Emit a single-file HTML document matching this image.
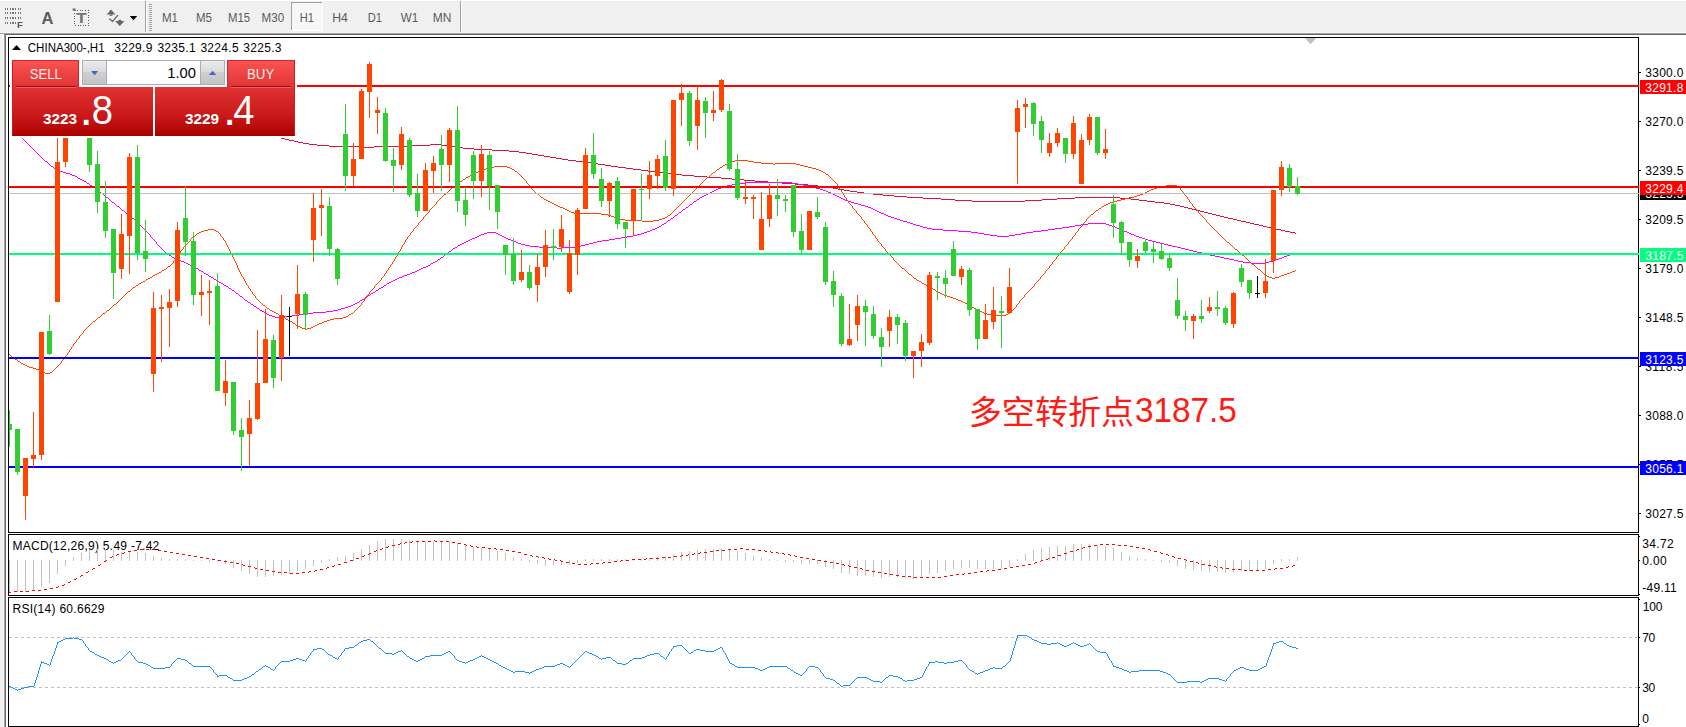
<!DOCTYPE html>
<html lang="zh"><head><meta charset="utf-8"><title>CHINA300-,H1</title>
<style>html,body{margin:0;padding:0;background:#f0f0f0;}body{width:1686px;height:727px;overflow:hidden;}svg{display:block}text{font-family:"Liberation Sans","Noto Sans CJK SC",sans-serif;}</style></head><body>
<svg width="1686" height="727" viewBox="0 0 1686 727">
<defs>
<linearGradient id="gTab" x1="0" y1="0" x2="0" y2="1"><stop offset="0" stop-color="#fb5353"/><stop offset="1" stop-color="#e23434"/></linearGradient>
<linearGradient id="gPrice" x1="0" y1="0" x2="0" y2="1"><stop offset="0" stop-color="#e13333"/><stop offset="0.6" stop-color="#c81818"/><stop offset="1" stop-color="#ab0000"/></linearGradient>
<linearGradient id="gBtn" x1="0" y1="0" x2="0" y2="1"><stop offset="0" stop-color="#ececec"/><stop offset="0.45" stop-color="#dcdcdc"/><stop offset="0.5" stop-color="#cfcfcf"/><stop offset="1" stop-color="#c4c4c4"/></linearGradient>
<clipPath id="clipMain"><rect x="9" y="38" width="1630" height="494"/></clipPath>
</defs>
<rect x="0" y="0" width="1686" height="727" fill="#f0f0f0"/>
<rect x="0" y="0" width="1686" height="1" fill="#ffffff"/>
<g id="toolbar" shape-rendering="crispEdges">
<line x1="4.5" y1="9" x2="21" y2="9" stroke="#777" stroke-width="2" stroke-dasharray="1.3 1.3"/>
<line x1="4.5" y1="13" x2="21" y2="13" stroke="#777" stroke-width="2" stroke-dasharray="1.3 1.3"/>
<line x1="4.5" y1="18" x2="21" y2="18" stroke="#777" stroke-width="2" stroke-dasharray="1.3 1.3"/>
<line x1="4.5" y1="23" x2="16" y2="23" stroke="#777" stroke-width="2" stroke-dasharray="1.3 1.3"/>
</g>
<text x="17" y="28.4" font-size="9.5" font-weight="bold" fill="#555">F</text>
<text x="41.5" y="24" font-size="16.5" font-weight="bold" fill="#5c5c5c">A</text>
<rect x="74.5" y="10.5" width="14" height="15" fill="none" stroke="#5a5a5a" stroke-width="1" stroke-dasharray="1 1.6" shape-rendering="crispEdges"/>
<rect x="72.5" y="8.5" width="3" height="2" fill="#707070"/>
<text x="76.1" y="23.4" font-size="14" font-weight="bold" fill="#767676" textLength="10.8" lengthAdjust="spacingAndGlyphs">T</text>
<path d="M111 9.5 L115.4 14.5 L106.6 14.5 Z" fill="#666"/><rect x="109.6" y="14.5" width="2.8" height="1.3" fill="#666"/>
<path d="M119.8 25.9 L124.5 21 L115.1 21 Z" fill="#666"/><rect x="118.4" y="19.8" width="2.8" height="1.3" fill="#666"/>
<path d="M109.3 18.8 L112.6 21.4 L117.9 15.1" fill="none" stroke="#666" stroke-width="1.4"/>
<path d="M129.8 16 L137.2 16 L133.5 20.2 Z" fill="#000"/>
<g shape-rendering="crispEdges">
<rect x="145" y="1" width="1" height="32" fill="#a0a0a0"/><rect x="146" y="1" width="1" height="32" fill="#ffffff"/>
<rect x="149" y="4" width="3" height="1" fill="#a6a6a6"/>
<rect x="149" y="6" width="3" height="1" fill="#a6a6a6"/>
<rect x="149" y="8" width="3" height="1" fill="#a6a6a6"/>
<rect x="149" y="10" width="3" height="1" fill="#a6a6a6"/>
<rect x="149" y="12" width="3" height="1" fill="#a6a6a6"/>
<rect x="149" y="14" width="3" height="1" fill="#a6a6a6"/>
<rect x="149" y="16" width="3" height="1" fill="#a6a6a6"/>
<rect x="149" y="18" width="3" height="1" fill="#a6a6a6"/>
<rect x="149" y="20" width="3" height="1" fill="#a6a6a6"/>
<rect x="149" y="22" width="3" height="1" fill="#a6a6a6"/>
<rect x="149" y="24" width="3" height="1" fill="#a6a6a6"/>
<rect x="149" y="26" width="3" height="1" fill="#a6a6a6"/>
<rect x="149" y="28" width="3" height="1" fill="#a6a6a6"/>
<rect x="149" y="30" width="3" height="1" fill="#a6a6a6"/>
<rect x="460" y="1" width="1" height="32" fill="#a0a0a0"/><rect x="461" y="1" width="1" height="32" fill="#ffffff"/>
<rect x="291" y="2" width="31" height="29" fill="#f7f7f7"/>
<rect x="291" y="2" width="31" height="1" fill="#a0a0a0"/><rect x="291" y="2" width="1" height="29" fill="#a0a0a0"/>
<rect x="291" y="30" width="32" height="1" fill="#ffffff"/><rect x="322" y="2" width="1" height="29" fill="#ffffff"/>
</g>
<g opacity="0.999">
<text x="162" y="22.3" font-size="12" fill="#5a5a5a" textLength="16.0" lengthAdjust="spacingAndGlyphs">M1</text>
<text x="196" y="22.3" font-size="12" fill="#5a5a5a" textLength="16.0" lengthAdjust="spacingAndGlyphs">M5</text>
<text x="228" y="22.3" font-size="12" fill="#5a5a5a" textLength="22.0" lengthAdjust="spacingAndGlyphs">M15</text>
<text x="261.6" y="22.3" font-size="12" fill="#5a5a5a" textLength="22.5" lengthAdjust="spacingAndGlyphs">M30</text>
<text x="299.8" y="22.3" font-size="12" fill="#5a5a5a" textLength="14.2" lengthAdjust="spacingAndGlyphs">H1</text>
<text x="332.2" y="22.3" font-size="12" fill="#5a5a5a" textLength="15.7" lengthAdjust="spacingAndGlyphs">H4</text>
<text x="367.7" y="22.3" font-size="12" fill="#5a5a5a" textLength="14.2" lengthAdjust="spacingAndGlyphs">D1</text>
<text x="400.8" y="22.3" font-size="12" fill="#5a5a5a" textLength="17.4" lengthAdjust="spacingAndGlyphs">W1</text>
<text x="432.8" y="22.3" font-size="12" fill="#5a5a5a" textLength="18.6" lengthAdjust="spacingAndGlyphs">MN</text>
</g>
<g shape-rendering="crispEdges">
<rect x="0" y="32" width="1686" height="1" fill="#f8f8f8"/>
<rect x="0" y="33" width="1686" height="1" fill="#a0a0a0"/><rect x="0" y="34" width="4" height="1" fill="#ffffff"/><rect x="5" y="34" width="1681" height="1" fill="#696969"/>
<rect x="3" y="35" width="1" height="692" fill="#f8f8f8"/>
<rect x="4" y="33" width="1" height="694" fill="#a0a0a0"/><rect x="5" y="34" width="1" height="693" fill="#696969"/>
<rect x="6" y="35" width="1680" height="692" fill="#ffffff"/>
<rect x="8" y="37" width="1631" height="1" fill="#000"/>
<rect x="8" y="532" width="1631" height="1" fill="#000"/>
<rect x="8" y="37" width="1" height="496" fill="#000"/>
<rect x="1638" y="37" width="1" height="496" fill="#000"/>
<rect x="8" y="534" width="1631" height="1" fill="#000"/>
<rect x="8" y="595" width="1631" height="1" fill="#000"/>
<rect x="8" y="534" width="1" height="62" fill="#000"/>
<rect x="1638" y="534" width="1" height="62" fill="#000"/>
<rect x="8" y="597" width="1631" height="1" fill="#000"/>
<rect x="8" y="726" width="1631" height="1" fill="#000"/>
<rect x="8" y="597" width="1" height="130" fill="#000"/>
<rect x="1638" y="597" width="1" height="130" fill="#000"/>
</g>
<path d="M1305 38 L1316.2 38 L1310.6 44.2 Z" fill="#c0c0c0"/>
<g clip-path="url(#clipMain)">
<path d="M240.5 128v1M241.5 128v1M242.5 128v1M243.5 128v1M244.5 129v1M245.5 129v1M246.5 129v1M247.5 129v1M248.5 130v1M249.5 130v1M250.5 130v1M251.5 130v1M252.5 131v1M253.5 131v1M254.5 131v1M255.5 131v1M256.5 132v1M257.5 132v1M258.5 132v1M259.5 132v1M260.5 133v1M261.5 133v1M262.5 133v1M263.5 133v1M264.5 134v1M265.5 134v1M266.5 134v1M267.5 134v1M268.5 135v1M269.5 135v1M270.5 135v1M271.5 135v1M272.5 136v1M273.5 136v1M274.5 136v1M275.5 136v1M276.5 136v1M277.5 137v1M278.5 137v1M279.5 137v1M280.5 137v1M281.5 138v1M282.5 138v1M283.5 138v1M284.5 138v1M285.5 139v1M286.5 139v1M287.5 139v1M288.5 139v1M289.5 140v1M290.5 140v1M291.5 140v1M292.5 140v1M293.5 140v1M294.5 141v1M295.5 141v1M296.5 141v1M297.5 141v1M298.5 142v1M299.5 142v1M300.5 142v1M301.5 142v1M302.5 142v1M303.5 143v1M304.5 143v1M305.5 143v1M306.5 143v1M307.5 143v1M308.5 143v1M309.5 144v1M310.5 144v1M311.5 144v1M312.5 144v1M313.5 144v1M314.5 144v1M315.5 144v1M316.5 144v1M317.5 145v1M318.5 145v1M319.5 145v1M320.5 145v1M321.5 145v1M322.5 145v1M323.5 145v1M324.5 145v1M325.5 145v1M326.5 145v1M327.5 145v1M328.5 145v1M329.5 146v1M330.5 146v1M331.5 146v1M332.5 146v1M333.5 146v1M334.5 146v1M335.5 146v1M336.5 146v1M337.5 146v1M338.5 146v1M339.5 146v1M340.5 146v1M341.5 146v1M342.5 146v1M343.5 146v1M344.5 146v1M345.5 146v1M346.5 146v1M347.5 146v1M348.5 146v1M349.5 146v1M350.5 146v1M351.5 146v1M352.5 146v1M353.5 146v1M354.5 146v1M355.5 146v1M356.5 146v1M357.5 146v1M358.5 146v1M359.5 146v1M360.5 146v1M361.5 146v1M362.5 146v1M363.5 146v1M364.5 147v1M365.5 147v1M366.5 147v1M367.5 147v1M368.5 147v1M369.5 147v1M370.5 147v1M371.5 147v1M372.5 147v1M373.5 147v1M374.5 146v1M375.5 146v1M376.5 146v1M377.5 146v1M378.5 146v1M379.5 146v1M380.5 146v1M381.5 146v1M382.5 146v1M383.5 146v1M384.5 146v1M385.5 146v1M386.5 146v1M387.5 146v1M388.5 146v1M389.5 146v1M390.5 146v1M391.5 146v1M392.5 146v1M393.5 146v1M394.5 146v1M395.5 146v1M396.5 146v1M397.5 146v1M398.5 146v1M399.5 146v1M400.5 146v1M401.5 146v1M402.5 146v1M403.5 146v1M404.5 146v1M405.5 146v1M406.5 146v1M407.5 146v1M408.5 146v1M409.5 146v1M410.5 145v1M411.5 145v1M412.5 145v1M413.5 145v1M414.5 145v1M415.5 145v1M416.5 145v1M417.5 145v1M418.5 145v1M419.5 145v1M420.5 145v1M421.5 145v1M422.5 145v1M423.5 145v1M424.5 145v1M425.5 145v1M426.5 145v1M427.5 145v1M428.5 145v1M429.5 145v1M430.5 144v1M431.5 144v1M432.5 144v1M433.5 144v1M434.5 144v1M435.5 144v1M436.5 144v1M437.5 144v1M438.5 144v1M439.5 144v1M440.5 144v1M441.5 144v1M442.5 145v1M443.5 145v1M444.5 145v1M445.5 145v1M446.5 145v1M447.5 145v1M448.5 145v1M449.5 145v1M450.5 146v1M451.5 146v1M452.5 146v1M453.5 146v1M454.5 146v1M455.5 146v1M456.5 147v1M457.5 147v1M458.5 147v1M459.5 147v1M460.5 147v1M461.5 147v1M462.5 147v1M463.5 148v1M464.5 148v1M465.5 148v1M466.5 148v1M467.5 148v1M468.5 148v1M469.5 148v1M470.5 148v1M471.5 148v1M472.5 148v1M473.5 148v1M474.5 149v1M475.5 149v1M476.5 149v1M477.5 149v1M478.5 149v1M479.5 149v1M480.5 149v1M481.5 149v1M482.5 149v1M483.5 149v1M484.5 149v1M485.5 149v1M486.5 149v1M487.5 149v1M488.5 149v1M489.5 149v1M490.5 149v1M491.5 149v1M492.5 150v1M493.5 150v1M494.5 150v1M495.5 150v1M496.5 150v1M497.5 150v1M498.5 150v1M499.5 150v1M500.5 150v1M501.5 150v1M502.5 150v1M503.5 150v1M504.5 150v1M505.5 150v1M506.5 150v1M507.5 150v1M508.5 150v1M509.5 151v1M510.5 151v1M511.5 151v1M512.5 151v1M513.5 151v1M514.5 151v1M515.5 151v1M516.5 151v1M517.5 151v1M518.5 151v1M519.5 152v1M520.5 152v1M521.5 152v1M522.5 152v1M523.5 152v1M524.5 152v1M525.5 152v1M526.5 153v1M527.5 153v1M528.5 153v1M529.5 153v1M530.5 153v1M531.5 153v1M532.5 154v1M533.5 154v1M534.5 154v1M535.5 154v1M536.5 154v1M537.5 154v1M538.5 155v1M539.5 155v1M540.5 155v1M541.5 155v1M542.5 155v1M543.5 155v1M544.5 156v1M545.5 156v1M546.5 156v1M547.5 156v1M548.5 156v1M549.5 156v1M550.5 157v1M551.5 157v1M552.5 157v1M553.5 157v1M554.5 157v1M555.5 157v1M556.5 158v1M557.5 158v1M558.5 158v1M559.5 158v1M560.5 158v1M561.5 158v1M562.5 159v1M563.5 159v1M564.5 159v1M565.5 159v1M566.5 159v1M567.5 159v1M568.5 160v1M569.5 160v1M570.5 160v1M571.5 160v1M572.5 160v1M573.5 160v1M574.5 160v1M575.5 160v1M576.5 161v1M577.5 161v1M578.5 161v1M579.5 161v1M580.5 161v1M581.5 161v1M582.5 161v1M583.5 161v1M584.5 162v1M585.5 162v1M586.5 162v1M587.5 162v1M588.5 162v1M589.5 162v1M590.5 162v1M591.5 163v1M592.5 163v1M593.5 163v1M594.5 163v1M595.5 163v1M596.5 163v1M597.5 163v1M598.5 164v1M599.5 164v1M600.5 164v1M601.5 164v1M602.5 164v1M603.5 164v1M604.5 164v1M605.5 165v1M606.5 165v1M607.5 165v1M608.5 165v1M609.5 165v1M610.5 165v1M611.5 166v1M612.5 166v1M613.5 166v1M614.5 166v1M615.5 166v1M616.5 166v1M617.5 166v1M618.5 167v1M619.5 167v1M620.5 167v1M621.5 167v1M622.5 167v1M623.5 167v1M624.5 167v1M625.5 167v1M626.5 168v1M627.5 168v1M628.5 168v1M629.5 168v1M630.5 168v1M631.5 168v1M632.5 168v1M633.5 169v1M634.5 169v1M635.5 169v1M636.5 169v1M637.5 169v1M638.5 169v1M639.5 169v1M640.5 169v1M641.5 170v1M642.5 170v1M643.5 170v1M644.5 170v1M645.5 170v1M646.5 170v1M647.5 170v1M648.5 171v1M649.5 171v1M650.5 171v1M651.5 171v1M652.5 171v1M653.5 171v1M654.5 171v1M655.5 172v1M656.5 172v1M657.5 172v1M658.5 172v1M659.5 172v1M660.5 172v1M661.5 172v1M662.5 172v1M663.5 173v1M664.5 173v1M665.5 173v1M666.5 173v1M667.5 173v1M668.5 173v1M669.5 173v1M670.5 173v1M671.5 173v1M672.5 174v1M673.5 174v1M674.5 174v1M675.5 174v1M676.5 174v1M677.5 174v1M678.5 174v1M679.5 174v1M680.5 174v1M681.5 174v1M682.5 175v1M683.5 175v1M684.5 175v1M685.5 175v1M686.5 175v1M687.5 175v1M688.5 175v1M689.5 175v1M690.5 175v1M691.5 175v1M692.5 175v1M693.5 175v1M694.5 176v1M695.5 176v1M696.5 176v1M697.5 176v1M698.5 176v1M699.5 176v1M700.5 176v1M701.5 176v1M702.5 176v1M703.5 176v1M704.5 176v1M705.5 176v1M706.5 176v1M707.5 177v1M708.5 177v1M709.5 177v1M710.5 177v1M711.5 177v1M712.5 177v1M713.5 177v1M714.5 177v1M715.5 177v1M716.5 177v1M717.5 177v1M718.5 177v1M719.5 177v1M720.5 177v1M721.5 178v1M722.5 178v1M723.5 178v1M724.5 178v1M725.5 178v1M726.5 178v1M727.5 178v1M728.5 178v1M729.5 178v1M730.5 178v1M731.5 178v1M732.5 179v1M733.5 179v1M734.5 179v1M735.5 179v1M736.5 179v1M737.5 179v1M738.5 179v1M739.5 179v1M740.5 179v1M741.5 179v1M742.5 179v1M743.5 179v1M744.5 180v1M745.5 180v1M746.5 180v1M747.5 180v1M748.5 180v1M749.5 180v1M750.5 180v1M751.5 180v1M752.5 180v1M753.5 180v1M754.5 180v1M755.5 181v1M756.5 181v1M757.5 181v1M758.5 181v1M759.5 181v1M760.5 181v1M761.5 181v1M762.5 181v1M763.5 181v1M764.5 181v1M765.5 181v1M766.5 181v1M767.5 181v1M768.5 182v1M769.5 182v1M770.5 182v1M771.5 182v1M772.5 182v1M773.5 182v1M774.5 182v1M775.5 182v1M776.5 182v1M777.5 182v1M778.5 182v1M779.5 182v1M780.5 182v1M781.5 182v1M782.5 183v1M783.5 183v1M784.5 183v1M785.5 183v1M786.5 183v1M787.5 183v1M788.5 183v1M789.5 183v1M790.5 183v1M791.5 183v1M792.5 183v1M793.5 183v1M794.5 183v1M795.5 184v1M796.5 184v1M797.5 184v1M798.5 184v1M799.5 184v1M800.5 184v1M801.5 184v1M802.5 184v1M803.5 184v1M804.5 184v1M805.5 184v1M806.5 184v1M807.5 184v1M808.5 185v1M809.5 185v1M810.5 185v1M811.5 185v1M812.5 185v1M813.5 185v1M814.5 185v1M815.5 185v1M816.5 185v1M817.5 185v1M818.5 186v1M819.5 186v1M820.5 186v1M821.5 186v1M822.5 186v1M823.5 186v1M824.5 186v1M825.5 186v1M826.5 186v1M827.5 187v1M828.5 187v1M829.5 187v1M830.5 187v1M831.5 187v1M832.5 187v1M833.5 188v1M834.5 188v1M835.5 188v1M836.5 188v1M837.5 188v1M838.5 189v1M839.5 189v1M840.5 189v1M841.5 189v1M842.5 189v1M843.5 189v1M844.5 190v1M845.5 190v1M846.5 190v1M847.5 190v1M848.5 190v1M849.5 190v1M850.5 191v1M851.5 191v1M852.5 191v1M853.5 191v1M854.5 191v1M855.5 191v1M856.5 191v1M857.5 192v1M858.5 192v1M859.5 192v1M860.5 192v1M861.5 192v1M862.5 192v1M863.5 192v1M864.5 193v1M865.5 193v1M866.5 193v1M867.5 193v1M868.5 193v1M869.5 193v1M870.5 193v1M871.5 193v1M872.5 193v1M873.5 194v1M874.5 194v1M875.5 194v1M876.5 194v1M877.5 194v1M878.5 194v1M879.5 194v1M880.5 194v1M881.5 194v1M882.5 194v1M883.5 195v1M884.5 195v1M885.5 195v1M886.5 195v1M887.5 195v1M888.5 195v1M889.5 195v1M890.5 195v1M891.5 195v1M892.5 195v1M893.5 195v1M894.5 196v1M895.5 196v1M896.5 196v1M897.5 196v1M898.5 196v1M899.5 196v1M900.5 196v1M901.5 196v1M902.5 196v1M903.5 196v1M904.5 196v1M905.5 196v1M906.5 196v1M907.5 197v1M908.5 197v1M909.5 197v1M910.5 197v1M911.5 197v1M912.5 197v1M913.5 197v1M914.5 197v1M915.5 197v1M916.5 197v1M917.5 197v1M918.5 197v1M919.5 197v1M920.5 197v1M921.5 197v1M922.5 197v1M923.5 198v1M924.5 198v1M925.5 198v1M926.5 198v1M927.5 198v1M928.5 198v1M929.5 198v1M930.5 198v1M931.5 198v1M932.5 198v1M933.5 198v1M934.5 198v1M935.5 198v1M936.5 198v1M937.5 198v1M938.5 198v1M939.5 198v1M940.5 198v1M941.5 199v1M942.5 199v1M943.5 199v1M944.5 199v1M945.5 199v1M946.5 199v1M947.5 199v1M948.5 199v1M949.5 199v1M950.5 199v1M951.5 199v1M952.5 199v1M953.5 199v1M954.5 199v1M955.5 200v1M956.5 200v1M957.5 200v1M958.5 200v1M959.5 200v1M960.5 200v1M961.5 200v1M962.5 200v1M963.5 200v1M964.5 200v1M965.5 200v1M966.5 200v1M967.5 200v1M968.5 200v1M969.5 200v1M970.5 200v1M971.5 200v1M972.5 201v1M973.5 201v1M974.5 201v1M975.5 201v1M976.5 201v1M977.5 201v1M978.5 201v1M979.5 201v1M980.5 201v1M981.5 201v1M982.5 201v1M983.5 201v1M984.5 201v1M985.5 201v1M986.5 201v1M987.5 201v1M988.5 201v1M989.5 201v1M990.5 201v1M991.5 201v1M992.5 201v1M993.5 201v1M994.5 201v1M995.5 201v1M996.5 201v1M997.5 201v1M998.5 201v1M999.5 201v1M1000.5 201v1M1001.5 201v1M1002.5 201v1M1003.5 201v1M1004.5 201v1M1005.5 201v1M1006.5 201v1M1007.5 201v1M1008.5 201v1M1009.5 201v1M1010.5 201v1M1011.5 201v1M1012.5 201v1M1013.5 201v1M1014.5 201v1M1015.5 201v1M1016.5 201v1M1017.5 201v1M1018.5 201v1M1019.5 201v1M1020.5 201v1M1021.5 201v1M1022.5 201v1M1023.5 201v1M1024.5 201v1M1025.5 200v1M1026.5 200v1M1027.5 200v1M1028.5 200v1M1029.5 200v1M1030.5 200v1M1031.5 200v1M1032.5 200v1M1033.5 200v1M1034.5 200v1M1035.5 200v1M1036.5 200v1M1037.5 200v1M1038.5 200v1M1039.5 200v1M1040.5 200v1M1041.5 200v1M1042.5 199v1M1043.5 199v1M1044.5 199v1M1045.5 199v1M1046.5 199v1M1047.5 199v1M1048.5 199v1M1049.5 199v1M1050.5 199v1M1051.5 199v1M1052.5 199v1M1053.5 199v1M1054.5 199v1M1055.5 199v1M1056.5 199v1M1057.5 198v1M1058.5 198v1M1059.5 198v1M1060.5 198v1M1061.5 198v1M1062.5 198v1M1063.5 198v1M1064.5 198v1M1065.5 198v1M1066.5 198v1M1067.5 198v1M1068.5 198v1M1069.5 198v1M1070.5 198v1M1071.5 198v1M1072.5 198v1M1073.5 198v1M1074.5 198v1M1075.5 197v1M1076.5 197v1M1077.5 197v1M1078.5 197v1M1079.5 197v1M1080.5 197v1M1081.5 197v1M1082.5 197v1M1083.5 197v1M1084.5 197v1M1085.5 197v1M1086.5 197v1M1087.5 197v1M1088.5 197v1M1089.5 197v1M1090.5 197v1M1091.5 197v1M1092.5 197v1M1093.5 197v1M1094.5 197v1M1095.5 197v1M1096.5 197v1M1097.5 197v1M1098.5 197v1M1099.5 197v1M1100.5 197v1M1101.5 197v1M1102.5 197v1M1103.5 197v1M1104.5 197v1M1105.5 197v1M1106.5 197v1M1107.5 197v1M1108.5 197v1M1109.5 197v1M1110.5 197v1M1111.5 197v1M1112.5 197v1M1113.5 197v1M1114.5 197v1M1115.5 197v1M1116.5 197v1M1117.5 197v1M1118.5 197v1M1119.5 197v1M1120.5 198v1M1121.5 198v1M1122.5 198v1M1123.5 198v1M1124.5 198v1M1125.5 198v1M1126.5 198v1M1127.5 198v1M1128.5 198v1M1129.5 198v1M1130.5 198v1M1131.5 199v1M1132.5 199v1M1133.5 199v1M1134.5 199v1M1135.5 199v1M1136.5 199v1M1137.5 199v1M1138.5 199v1M1139.5 200v1M1140.5 200v1M1141.5 200v1M1142.5 200v1M1143.5 200v1M1144.5 200v1M1145.5 200v1M1146.5 200v1M1147.5 201v1M1148.5 201v1M1149.5 201v1M1150.5 201v1M1151.5 201v1M1152.5 201v1M1153.5 201v1M1154.5 201v1M1155.5 202v1M1156.5 202v1M1157.5 202v1M1158.5 202v1M1159.5 202v1M1160.5 202v1M1161.5 202v1M1162.5 202v1M1163.5 202v1M1164.5 203v1M1165.5 203v1M1166.5 203v1M1167.5 203v1M1168.5 203v1M1169.5 203v1M1170.5 204v1M1171.5 204v1M1172.5 204v1M1173.5 204v1M1174.5 204v1M1175.5 205v1M1176.5 205v1M1177.5 205v1M1178.5 205v1M1179.5 205v1M1180.5 206v1M1181.5 206v1M1182.5 206v1M1183.5 206v1M1184.5 207v1M1185.5 207v1M1186.5 207v1M1187.5 207v1M1188.5 208v1M1189.5 208v1M1190.5 208v1M1191.5 208v1M1192.5 209v1M1193.5 209v1M1194.5 209v1M1195.5 209v1M1196.5 210v1M1197.5 210v1M1198.5 210v1M1199.5 210v1M1200.5 211v1M1201.5 211v1M1202.5 211v1M1203.5 211v1M1204.5 212v1M1205.5 212v1M1206.5 212v1M1207.5 212v1M1208.5 213v1M1209.5 213v1M1210.5 213v1M1211.5 213v1M1212.5 214v1M1213.5 214v1M1214.5 214v1M1215.5 214v1M1216.5 215v1M1217.5 215v1M1218.5 215v1M1219.5 215v1M1220.5 216v1M1221.5 216v1M1222.5 216v1M1223.5 216v1M1224.5 217v1M1225.5 217v1M1226.5 217v1M1227.5 217v1M1228.5 218v1M1229.5 218v1M1230.5 218v1M1231.5 218v1M1232.5 218v1M1233.5 219v1M1234.5 219v1M1235.5 219v1M1236.5 219v1M1237.5 220v1M1238.5 220v1M1239.5 220v1M1240.5 220v1M1241.5 221v1M1242.5 221v1M1243.5 221v1M1244.5 221v1M1245.5 221v1M1246.5 222v1M1247.5 222v1M1248.5 222v1M1249.5 222v1M1250.5 223v1M1251.5 223v1M1252.5 223v1M1253.5 223v1M1254.5 224v1M1255.5 224v1M1256.5 224v1M1257.5 224v1M1258.5 224v1M1259.5 225v1M1260.5 225v1M1261.5 225v1M1262.5 225v1M1263.5 226v1M1264.5 226v1M1265.5 226v1M1266.5 226v1M1267.5 227v1M1268.5 227v1M1269.5 227v1M1270.5 227v1M1271.5 228v1M1272.5 228v1M1273.5 228v1M1274.5 228v1M1275.5 228v1M1276.5 229v1M1277.5 229v1M1278.5 229v1M1279.5 229v1M1280.5 229v1M1281.5 230v1M1282.5 230v1M1283.5 230v1M1284.5 230v1M1285.5 231v1M1286.5 231v1M1287.5 231v1M1288.5 231v1M1289.5 231v1M1290.5 232v1M1291.5 232v1M1292.5 232v1M1293.5 232v1M1294.5 232v1M1295.5 233v1" fill="none" stroke="#dc143c" stroke-width="1" shape-rendering="crispEdges"/>
<path d="M10.5 122v1M11.5 123v1M12.5 124v2M13.5 126v1M14.5 127v2M15.5 129v1M16.5 130v1M17.5 131v2M18.5 133v1M19.5 134v1M20.5 135v1M21.5 136v2M22.5 138v1M23.5 139v1M24.5 140v1M25.5 141v1M26.5 142v1M27.5 143v1M28.5 144v1M29.5 145v1M30.5 146v1M31.5 147v1M32.5 148v1M33.5 149v1M34.5 150v1M35.5 151v1M36.5 152v1M37.5 153v1M38.5 154v1M39.5 155v1M40.5 156v1M41.5 157v1M42.5 158v1M43.5 159v1M44.5 160v1M45.5 161v1M46.5 161v1M47.5 162v1M48.5 163v1M49.5 164v1M50.5 165v1M51.5 166v1M52.5 166v1M53.5 167v1M54.5 168v1M55.5 168v1M56.5 169v1M57.5 169v1M58.5 170v1M59.5 170v1M60.5 171v1M61.5 171v1M62.5 171v1M63.5 172v1M64.5 172v1M65.5 172v1M66.5 173v1M67.5 173v1M68.5 173v1M69.5 173v1M70.5 174v1M71.5 174v1M72.5 175v1M73.5 175v1M74.5 175v1M75.5 176v1M76.5 176v1M77.5 177v1M78.5 178v1M79.5 178v1M80.5 179v1M81.5 179v1M82.5 180v1M83.5 180v1M84.5 181v1M85.5 181v1M86.5 182v1M87.5 183v1M88.5 183v1M89.5 184v1M90.5 185v1M91.5 185v1M92.5 186v1M93.5 187v1M94.5 187v1M95.5 188v1M96.5 189v1M97.5 189v1M98.5 190v1M99.5 191v1M100.5 192v1M101.5 193v1M102.5 193v1M103.5 194v1M104.5 195v1M105.5 196v1M106.5 197v1M107.5 197v1M108.5 198v1M109.5 199v1M110.5 200v1M111.5 201v1M112.5 202v1M113.5 202v1M114.5 203v1M115.5 204v1M116.5 205v1M117.5 206v1M118.5 206v1M119.5 207v1M120.5 208v1M121.5 209v1M122.5 210v1M123.5 210v1M124.5 211v1M125.5 212v1M126.5 213v1M127.5 214v1M128.5 214v1M129.5 215v1M130.5 216v1M131.5 217v1M132.5 218v1M133.5 218v1M134.5 219v1M135.5 220v1M136.5 221v1M137.5 222v1M138.5 223v1M139.5 224v1M140.5 225v1M141.5 226v1M142.5 227v1M143.5 228v1M144.5 229v1M145.5 230v1M146.5 231v1M147.5 232v1M148.5 233v1M149.5 234v1M150.5 235v2M151.5 237v1M152.5 238v1M153.5 239v1M154.5 240v1M155.5 241v1M156.5 242v2M157.5 244v1M158.5 245v1M159.5 246v1M160.5 247v1M161.5 248v1M162.5 249v1M163.5 250v1M164.5 251v1M165.5 252v1M166.5 253v1M167.5 253v1M168.5 254v1M169.5 255v1M170.5 255v1M171.5 256v1M172.5 257v1M173.5 257v1M174.5 258v1M175.5 258v1M176.5 258v1M177.5 259v1M178.5 259v1M179.5 260v1M180.5 260v1M181.5 261v1M182.5 261v1M183.5 261v1M184.5 262v1M185.5 262v1M186.5 263v1M187.5 263v1M188.5 264v1M189.5 264v1M190.5 265v1M191.5 265v1M192.5 266v1M193.5 266v1M194.5 267v1M195.5 267v1M196.5 268v1M197.5 268v1M198.5 269v1M199.5 270v1M200.5 270v1M201.5 271v1M202.5 271v1M203.5 272v1M204.5 273v1M205.5 273v1M206.5 274v1M207.5 274v1M208.5 275v1M209.5 276v1M210.5 276v1M211.5 277v1M212.5 277v1M213.5 278v1M214.5 279v1M215.5 279v1M216.5 280v1M217.5 280v1M218.5 281v1M219.5 282v1M220.5 282v1M221.5 283v1M222.5 283v1M223.5 284v1M224.5 285v1M225.5 285v1M226.5 286v1M227.5 286v1M228.5 287v1M229.5 288v1M230.5 288v1M231.5 289v1M232.5 290v1M233.5 290v1M234.5 291v1M235.5 292v1M236.5 293v1M237.5 293v1M238.5 294v1M239.5 295v1M240.5 296v1M241.5 296v1M242.5 297v1M243.5 298v1M244.5 299v1M245.5 300v1M246.5 300v1M247.5 301v1M248.5 302v1M249.5 302v1M250.5 303v1M251.5 304v1M252.5 304v1M253.5 305v1M254.5 306v1M255.5 306v1M256.5 307v1M257.5 308v1M258.5 308v1M259.5 309v1M260.5 310v1M261.5 310v1M262.5 311v1M263.5 311v1M264.5 312v1M265.5 312v1M266.5 313v1M267.5 314v1M268.5 314v1M269.5 315v1M270.5 315v1M271.5 315v1M272.5 316v1M273.5 316v1M274.5 316v1M275.5 317v1M276.5 317v1M277.5 317v1M278.5 317v1M279.5 317v1M280.5 317v1M281.5 317v1M282.5 317v1M283.5 317v1M284.5 316v1M285.5 316v1M286.5 316v1M287.5 316v1M288.5 316v1M289.5 316v1M290.5 316v1M291.5 316v1M292.5 315v1M293.5 315v1M294.5 315v1M295.5 315v1M296.5 315v1M297.5 315v1M298.5 315v1M299.5 314v1M300.5 314v1M301.5 314v1M302.5 314v1M303.5 314v1M304.5 314v1M305.5 314v1M306.5 313v1M307.5 313v1M308.5 313v1M309.5 313v1M310.5 313v1M311.5 313v1M312.5 313v1M313.5 312v1M314.5 312v1M315.5 312v1M316.5 312v1M317.5 312v1M318.5 312v1M319.5 312v1M320.5 312v1M321.5 312v1M322.5 312v1M323.5 312v1M324.5 312v1M325.5 312v1M326.5 311v1M327.5 311v1M328.5 311v1M329.5 311v1M330.5 311v1M331.5 311v1M332.5 311v1M333.5 310v1M334.5 310v1M335.5 310v1M336.5 310v1M337.5 310v1M338.5 309v1M339.5 309v1M340.5 309v1M341.5 308v1M342.5 308v1M343.5 308v1M344.5 308v1M345.5 307v1M346.5 307v1M347.5 307v1M348.5 306v1M349.5 306v1M350.5 306v1M351.5 305v1M352.5 305v1M353.5 304v1M354.5 304v1M355.5 303v1M356.5 303v1M357.5 302v1M358.5 302v1M359.5 301v1M360.5 300v1M361.5 300v1M362.5 299v1M363.5 299v1M364.5 298v1M365.5 297v1M366.5 297v1M367.5 296v1M368.5 295v1M369.5 295v1M370.5 294v1M371.5 293v1M372.5 293v1M373.5 292v1M374.5 292v1M375.5 291v1M376.5 290v1M377.5 290v1M378.5 289v1M379.5 288v1M380.5 288v1M381.5 287v1M382.5 287v1M383.5 286v1M384.5 285v1M385.5 285v1M386.5 284v1M387.5 283v1M388.5 283v1M389.5 282v1M390.5 282v1M391.5 281v1M392.5 281v1M393.5 280v1M394.5 280v1M395.5 279v1M396.5 279v1M397.5 278v1M398.5 278v1M399.5 277v1M400.5 277v1M401.5 277v1M402.5 276v1M403.5 276v1M404.5 275v1M405.5 275v1M406.5 275v1M407.5 274v1M408.5 274v1M409.5 274v1M410.5 273v1M411.5 273v1M412.5 272v1M413.5 272v1M414.5 272v1M415.5 271v1M416.5 271v1M417.5 270v1M418.5 270v1M419.5 269v1M420.5 269v1M421.5 268v1M422.5 268v1M423.5 267v1M424.5 267v1M425.5 267v1M426.5 266v1M427.5 266v1M428.5 265v1M429.5 265v1M430.5 264v1M431.5 263v1M432.5 263v1M433.5 262v1M434.5 262v1M435.5 261v1M436.5 261v1M437.5 260v1M438.5 259v1M439.5 259v1M440.5 258v1M441.5 257v1M442.5 257v1M443.5 256v1M444.5 255v1M445.5 254v1M446.5 254v1M447.5 253v1M448.5 252v1M449.5 251v1M450.5 251v1M451.5 250v1M452.5 249v1M453.5 248v1M454.5 248v1M455.5 247v1M456.5 247v1M457.5 246v1M458.5 245v1M459.5 245v1M460.5 244v1M461.5 244v1M462.5 243v1M463.5 243v1M464.5 242v1M465.5 242v1M466.5 241v1M467.5 241v1M468.5 240v1M469.5 240v1M470.5 239v1M471.5 239v1M472.5 238v1M473.5 238v1M474.5 238v1M475.5 237v1M476.5 237v1M477.5 236v1M478.5 236v1M479.5 235v1M480.5 235v1M481.5 234v1M482.5 234v1M483.5 234v1M484.5 233v1M485.5 233v1M486.5 233v1M487.5 232v1M488.5 232v1M489.5 232v1M490.5 232v1M491.5 232v1M492.5 232v1M493.5 232v1M494.5 232v1M495.5 232v1M496.5 233v1M497.5 233v1M498.5 234v1M499.5 234v1M500.5 235v1M501.5 235v1M502.5 236v1M503.5 236v1M504.5 237v1M505.5 237v1M506.5 238v1M507.5 238v1M508.5 239v1M509.5 239v1M510.5 239v1M511.5 240v1M512.5 240v1M513.5 241v1M514.5 241v1M515.5 241v1M516.5 242v1M517.5 242v1M518.5 243v1M519.5 243v1M520.5 243v1M521.5 244v1M522.5 244v1M523.5 244v1M524.5 244v1M525.5 245v1M526.5 245v1M527.5 245v1M528.5 245v1M529.5 245v1M530.5 246v1M531.5 246v1M532.5 246v1M533.5 246v1M534.5 246v1M535.5 246v1M536.5 246v1M537.5 246v1M538.5 246v1M539.5 247v1M540.5 247v1M541.5 247v1M542.5 247v1M543.5 247v1M544.5 247v1M545.5 247v1M546.5 247v1M547.5 247v1M548.5 247v1M549.5 247v1M550.5 247v1M551.5 247v1M552.5 247v1M553.5 247v1M554.5 247v1M555.5 247v1M556.5 247v1M557.5 248v1M558.5 248v1M559.5 248v1M560.5 248v1M561.5 247v1M562.5 247v1M563.5 247v1M564.5 247v1M565.5 247v1M566.5 247v1M567.5 247v1M568.5 247v1M569.5 247v1M570.5 247v1M571.5 247v1M572.5 247v1M573.5 247v1M574.5 247v1M575.5 247v1M576.5 246v1M577.5 246v1M578.5 246v1M579.5 246v1M580.5 246v1M581.5 245v1M582.5 245v1M583.5 245v1M584.5 245v1M585.5 244v1M586.5 244v1M587.5 244v1M588.5 244v1M589.5 243v1M590.5 243v1M591.5 243v1M592.5 243v1M593.5 242v1M594.5 242v1M595.5 242v1M596.5 242v1M597.5 241v1M598.5 241v1M599.5 241v1M600.5 241v1M601.5 241v1M602.5 240v1M603.5 240v1M604.5 240v1M605.5 240v1M606.5 240v1M607.5 240v1M608.5 240v1M609.5 239v1M610.5 239v1M611.5 239v1M612.5 239v1M613.5 239v1M614.5 239v1M615.5 238v1M616.5 238v1M617.5 238v1M618.5 238v1M619.5 238v1M620.5 238v1M621.5 237v1M622.5 237v1M623.5 237v1M624.5 237v1M625.5 237v1M626.5 237v1M627.5 236v1M628.5 236v1M629.5 236v1M630.5 236v1M631.5 236v1M632.5 236v1M633.5 235v1M634.5 235v1M635.5 235v1M636.5 235v1M637.5 234v1M638.5 234v1M639.5 234v1M640.5 234v1M641.5 233v1M642.5 233v1M643.5 233v1M644.5 232v1M645.5 232v1M646.5 232v1M647.5 231v1M648.5 231v1M649.5 231v1M650.5 230v1M651.5 230v1M652.5 229v1M653.5 229v1M654.5 229v1M655.5 228v1M656.5 228v1M657.5 227v1M658.5 227v1M659.5 226v1M660.5 226v1M661.5 225v1M662.5 224v1M663.5 224v1M664.5 223v1M665.5 223v1M666.5 222v1M667.5 221v1M668.5 220v1M669.5 220v1M670.5 219v1M671.5 218v1M672.5 218v1M673.5 217v1M674.5 216v1M675.5 215v1M676.5 215v1M677.5 214v1M678.5 213v1M679.5 212v1M680.5 212v1M681.5 211v1M682.5 210v1M683.5 209v1M684.5 209v1M685.5 208v1M686.5 207v1M687.5 207v1M688.5 206v1M689.5 205v1M690.5 204v1M691.5 204v1M692.5 203v1M693.5 202v1M694.5 201v1M695.5 201v1M696.5 200v1M697.5 199v1M698.5 199v1M699.5 198v1M700.5 197v1M701.5 197v1M702.5 196v1M703.5 196v1M704.5 195v1M705.5 195v1M706.5 194v1M707.5 194v1M708.5 193v1M709.5 193v1M710.5 192v1M711.5 192v1M712.5 191v1M713.5 191v1M714.5 190v1M715.5 190v1M716.5 189v1M717.5 189v1M718.5 188v1M719.5 188v1M720.5 188v1M721.5 187v1M722.5 187v1M723.5 187v1M724.5 186v1M725.5 186v1M726.5 186v1M727.5 185v1M728.5 185v1M729.5 185v1M730.5 185v1M731.5 185v1M732.5 184v1M733.5 184v1M734.5 184v1M735.5 184v1M736.5 184v1M737.5 183v1M738.5 183v1M739.5 183v1M740.5 183v1M741.5 183v1M742.5 183v1M743.5 183v1M744.5 183v1M745.5 182v1M746.5 182v1M747.5 182v1M748.5 182v1M749.5 182v1M750.5 182v1M751.5 182v1M752.5 182v1M753.5 182v1M754.5 182v1M755.5 182v1M756.5 182v1M757.5 182v1M758.5 182v1M759.5 182v1M760.5 182v1M761.5 182v1M762.5 182v1M763.5 182v1M764.5 182v1M765.5 182v1M766.5 182v1M767.5 182v1M768.5 182v1M769.5 182v1M770.5 182v1M771.5 182v1M772.5 182v1M773.5 182v1M774.5 182v1M775.5 182v1M776.5 182v1M777.5 182v1M778.5 182v1M779.5 182v1M780.5 182v1M781.5 182v1M782.5 182v1M783.5 182v1M784.5 182v1M785.5 182v1M786.5 182v1M787.5 182v1M788.5 182v1M789.5 182v1M790.5 182v1M791.5 182v1M792.5 183v1M793.5 183v1M794.5 183v1M795.5 183v1M796.5 183v1M797.5 183v1M798.5 184v1M799.5 184v1M800.5 184v1M801.5 184v1M802.5 184v1M803.5 185v1M804.5 185v1M805.5 185v1M806.5 185v1M807.5 185v1M808.5 186v1M809.5 186v1M810.5 186v1M811.5 186v1M812.5 187v1M813.5 187v1M814.5 187v1M815.5 187v1M816.5 188v1M817.5 188v1M818.5 188v1M819.5 188v1M820.5 189v1M821.5 189v1M822.5 189v1M823.5 190v1M824.5 190v1M825.5 190v1M826.5 191v1M827.5 191v1M828.5 192v1M829.5 192v1M830.5 192v1M831.5 193v1M832.5 193v1M833.5 194v1M834.5 194v1M835.5 195v1M836.5 195v1M837.5 196v1M838.5 196v1M839.5 197v1M840.5 197v1M841.5 198v1M842.5 198v1M843.5 199v1M844.5 199v1M845.5 200v1M846.5 200v1M847.5 200v1M848.5 201v1M849.5 201v1M850.5 201v1M851.5 202v1M852.5 202v1M853.5 202v1M854.5 203v1M855.5 203v1M856.5 203v1M857.5 203v1M858.5 204v1M859.5 204v1M860.5 204v1M861.5 205v1M862.5 205v1M863.5 205v1M864.5 205v1M865.5 206v1M866.5 206v1M867.5 206v1M868.5 207v1M869.5 207v1M870.5 207v1M871.5 208v1M872.5 208v1M873.5 209v1M874.5 209v1M875.5 210v1M876.5 210v1M877.5 211v1M878.5 211v1M879.5 212v1M880.5 212v1M881.5 213v1M882.5 213v1M883.5 213v1M884.5 214v1M885.5 214v1M886.5 215v1M887.5 215v1M888.5 216v1M889.5 216v1M890.5 216v1M891.5 217v1M892.5 217v1M893.5 217v1M894.5 218v1M895.5 218v1M896.5 218v1M897.5 219v1M898.5 219v1M899.5 219v1M900.5 220v1M901.5 220v1M902.5 220v1M903.5 221v1M904.5 221v1M905.5 221v1M906.5 221v1M907.5 222v1M908.5 222v1M909.5 222v1M910.5 223v1M911.5 223v1M912.5 223v1M913.5 224v1M914.5 224v1M915.5 224v1M916.5 225v1M917.5 225v1M918.5 225v1M919.5 225v1M920.5 226v1M921.5 226v1M922.5 226v1M923.5 227v1M924.5 227v1M925.5 227v1M926.5 227v1M927.5 228v1M928.5 228v1M929.5 228v1M930.5 228v1M931.5 228v1M932.5 229v1M933.5 229v1M934.5 229v1M935.5 229v1M936.5 229v1M937.5 229v1M938.5 229v1M939.5 229v1M940.5 229v1M941.5 229v1M942.5 229v1M943.5 230v1M944.5 230v1M945.5 230v1M946.5 230v1M947.5 230v1M948.5 230v1M949.5 230v1M950.5 230v1M951.5 230v1M952.5 230v1M953.5 230v1M954.5 230v1M955.5 230v1M956.5 230v1M957.5 230v1M958.5 231v1M959.5 231v1M960.5 231v1M961.5 231v1M962.5 231v1M963.5 231v1M964.5 231v1M965.5 231v1M966.5 231v1M967.5 231v1M968.5 231v1M969.5 231v1M970.5 231v1M971.5 232v1M972.5 232v1M973.5 232v1M974.5 232v1M975.5 232v1M976.5 232v1M977.5 232v1M978.5 233v1M979.5 233v1M980.5 233v1M981.5 233v1M982.5 233v1M983.5 233v1M984.5 234v1M985.5 234v1M986.5 234v1M987.5 234v1M988.5 234v1M989.5 234v1M990.5 235v1M991.5 235v1M992.5 235v1M993.5 235v1M994.5 235v1M995.5 235v1M996.5 235v1M997.5 236v1M998.5 236v1M999.5 236v1M1000.5 236v1M1001.5 236v1M1002.5 236v1M1003.5 236v1M1004.5 236v1M1005.5 236v1M1006.5 236v1M1007.5 236v1M1008.5 236v1M1009.5 235v1M1010.5 235v1M1011.5 235v1M1012.5 235v1M1013.5 235v1M1014.5 235v1M1015.5 234v1M1016.5 234v1M1017.5 234v1M1018.5 234v1M1019.5 234v1M1020.5 234v1M1021.5 233v1M1022.5 233v1M1023.5 233v1M1024.5 233v1M1025.5 233v1M1026.5 232v1M1027.5 232v1M1028.5 232v1M1029.5 232v1M1030.5 232v1M1031.5 232v1M1032.5 232v1M1033.5 231v1M1034.5 231v1M1035.5 231v1M1036.5 231v1M1037.5 231v1M1038.5 231v1M1039.5 231v1M1040.5 231v1M1041.5 230v1M1042.5 230v1M1043.5 230v1M1044.5 230v1M1045.5 230v1M1046.5 230v1M1047.5 230v1M1048.5 229v1M1049.5 229v1M1050.5 229v1M1051.5 229v1M1052.5 229v1M1053.5 229v1M1054.5 229v1M1055.5 228v1M1056.5 228v1M1057.5 228v1M1058.5 228v1M1059.5 228v1M1060.5 228v1M1061.5 228v1M1062.5 227v1M1063.5 227v1M1064.5 227v1M1065.5 227v1M1066.5 227v1M1067.5 227v1M1068.5 227v1M1069.5 226v1M1070.5 226v1M1071.5 226v1M1072.5 226v1M1073.5 226v1M1074.5 226v1M1075.5 225v1M1076.5 225v1M1077.5 225v1M1078.5 225v1M1079.5 225v1M1080.5 225v1M1081.5 224v1M1082.5 224v1M1083.5 224v1M1084.5 224v1M1085.5 224v1M1086.5 224v1M1087.5 224v1M1088.5 223v1M1089.5 223v1M1090.5 223v1M1091.5 223v1M1092.5 223v1M1093.5 223v1M1094.5 223v1M1095.5 223v1M1096.5 223v1M1097.5 223v1M1098.5 223v1M1099.5 223v1M1100.5 223v1M1101.5 223v1M1102.5 223v1M1103.5 223v1M1104.5 223v1M1105.5 223v1M1106.5 224v1M1107.5 224v1M1108.5 224v1M1109.5 225v1M1110.5 225v1M1111.5 225v1M1112.5 226v1M1113.5 226v1M1114.5 226v1M1115.5 227v1M1116.5 227v1M1117.5 228v1M1118.5 228v1M1119.5 229v1M1120.5 229v1M1121.5 229v1M1122.5 230v1M1123.5 230v1M1124.5 231v1M1125.5 231v1M1126.5 231v1M1127.5 232v1M1128.5 232v1M1129.5 233v1M1130.5 233v1M1131.5 234v1M1132.5 234v1M1133.5 234v1M1134.5 235v1M1135.5 235v1M1136.5 236v1M1137.5 236v1M1138.5 236v1M1139.5 237v1M1140.5 237v1M1141.5 237v1M1142.5 238v1M1143.5 238v1M1144.5 238v1M1145.5 239v1M1146.5 239v1M1147.5 239v1M1148.5 240v1M1149.5 240v1M1150.5 240v1M1151.5 240v1M1152.5 241v1M1153.5 241v1M1154.5 241v1M1155.5 241v1M1156.5 242v1M1157.5 242v1M1158.5 242v1M1159.5 242v1M1160.5 243v1M1161.5 243v1M1162.5 243v1M1163.5 243v1M1164.5 244v1M1165.5 244v1M1166.5 244v1M1167.5 244v1M1168.5 245v1M1169.5 245v1M1170.5 245v1M1171.5 245v1M1172.5 246v1M1173.5 246v1M1174.5 246v1M1175.5 246v1M1176.5 246v1M1177.5 247v1M1178.5 247v1M1179.5 247v1M1180.5 247v1M1181.5 248v1M1182.5 248v1M1183.5 248v1M1184.5 248v1M1185.5 249v1M1186.5 249v1M1187.5 249v1M1188.5 249v1M1189.5 250v1M1190.5 250v1M1191.5 250v1M1192.5 250v1M1193.5 251v1M1194.5 251v1M1195.5 251v1M1196.5 251v1M1197.5 252v1M1198.5 252v1M1199.5 252v1M1200.5 252v1M1201.5 252v1M1202.5 253v1M1203.5 253v1M1204.5 253v1M1205.5 253v1M1206.5 254v1M1207.5 254v1M1208.5 254v1M1209.5 254v1M1210.5 255v1M1211.5 255v1M1212.5 255v1M1213.5 255v1M1214.5 255v1M1215.5 256v1M1216.5 256v1M1217.5 256v1M1218.5 256v1M1219.5 256v1M1220.5 257v1M1221.5 257v1M1222.5 257v1M1223.5 257v1M1224.5 258v1M1225.5 258v1M1226.5 258v1M1227.5 258v1M1228.5 258v1M1229.5 259v1M1230.5 259v1M1231.5 259v1M1232.5 259v1M1233.5 259v1M1234.5 260v1M1235.5 260v1M1236.5 260v1M1237.5 260v1M1238.5 261v1M1239.5 261v1M1240.5 261v1M1241.5 261v1M1242.5 261v1M1243.5 262v1M1244.5 262v1M1245.5 262v1M1246.5 262v1M1247.5 262v1M1248.5 262v1M1249.5 262v1M1250.5 262v1M1251.5 263v1M1252.5 263v1M1253.5 263v1M1254.5 263v1M1255.5 263v1M1256.5 263v1M1257.5 263v1M1258.5 263v1M1259.5 263v1M1260.5 263v1M1261.5 263v1M1262.5 263v1M1263.5 263v1M1264.5 263v1M1265.5 262v1M1266.5 262v1M1267.5 262v1M1268.5 262v1M1269.5 261v1M1270.5 261v1M1271.5 261v1M1272.5 261v1M1273.5 260v1M1274.5 260v1M1275.5 260v1M1276.5 259v1M1277.5 259v1M1278.5 259v1M1279.5 258v1M1280.5 258v1M1281.5 258v1M1282.5 257v1M1283.5 257v1M1284.5 256v1M1285.5 256v1M1286.5 256v1M1287.5 255v1M1288.5 255v1M1289.5 255v1" fill="none" stroke="#ff00ff" stroke-width="1" shape-rendering="crispEdges"/>
<path d="M9.5 354v1M10.5 355v1M11.5 356v1M12.5 357v1M13.5 357v1M14.5 358v1M15.5 359v1M16.5 359v1M17.5 360v1M18.5 361v1M19.5 361v1M20.5 362v1M21.5 363v1M22.5 363v1M23.5 364v1M24.5 364v1M25.5 365v1M26.5 365v1M27.5 366v1M28.5 366v1M29.5 367v1M30.5 367v1M31.5 367v1M32.5 367v1M33.5 368v1M34.5 368v1M35.5 368v1M36.5 369v1M37.5 369v1M38.5 369v1M39.5 370v1M40.5 370v1M41.5 371v1M42.5 371v1M43.5 372v1M44.5 372v1M45.5 373v1M46.5 373v1M47.5 373v1M48.5 373v1M49.5 373v1M50.5 372v1M51.5 372v1M52.5 371v1M53.5 370v1M54.5 369v1M55.5 368v1M56.5 367v1M57.5 366v1M58.5 365v1M59.5 364v1M60.5 363v1M61.5 361v2M62.5 360v1M63.5 359v1M64.5 358v1M65.5 356v2M66.5 355v1M67.5 353v2M68.5 352v1M69.5 350v2M70.5 349v1M71.5 347v2M72.5 346v1M73.5 344v2M74.5 343v1M75.5 342v1M76.5 340v2M77.5 339v1M78.5 338v1M79.5 336v2M80.5 335v1M81.5 334v1M82.5 333v1M83.5 331v2M84.5 330v1M85.5 329v1M86.5 328v1M87.5 327v1M88.5 326v1M89.5 325v1M90.5 324v1M91.5 323v1M92.5 322v1M93.5 321v1M94.5 321v1M95.5 320v1M96.5 319v1M97.5 318v1M98.5 317v1M99.5 317v1M100.5 316v1M101.5 315v1M102.5 314v1M103.5 313v1M104.5 313v1M105.5 312v1M106.5 311v1M107.5 310v1M108.5 310v1M109.5 309v1M110.5 308v1M111.5 307v1M112.5 306v1M113.5 305v1M114.5 304v1M115.5 304v1M116.5 303v1M117.5 302v1M118.5 301v1M119.5 300v1M120.5 299v1M121.5 298v1M122.5 297v1M123.5 296v1M124.5 295v1M125.5 294v1M126.5 293v1M127.5 292v1M128.5 291v1M129.5 291v1M130.5 290v1M131.5 289v1M132.5 288v1M133.5 287v1M134.5 287v1M135.5 286v1M136.5 285v1M137.5 285v1M138.5 284v1M139.5 283v1M140.5 283v1M141.5 282v1M142.5 282v1M143.5 281v1M144.5 281v1M145.5 280v1M146.5 279v1M147.5 279v1M148.5 278v1M149.5 278v1M150.5 277v1M151.5 277v1M152.5 276v1M153.5 275v1M154.5 275v1M155.5 274v1M156.5 274v1M157.5 273v1M158.5 273v1M159.5 272v1M160.5 272v1M161.5 271v1M162.5 270v1M163.5 270v1M164.5 269v1M165.5 269v1M166.5 268v1M167.5 267v1M168.5 266v1M169.5 266v1M170.5 265v1M171.5 264v1M172.5 263v1M173.5 261v2M174.5 260v1M175.5 259v1M176.5 257v2M177.5 256v1M178.5 254v2M179.5 253v1M180.5 251v2M181.5 250v1M182.5 249v1M183.5 247v2M184.5 246v1M185.5 245v1M186.5 244v1M187.5 243v1M188.5 242v1M189.5 241v1M190.5 239v2M191.5 238v1M192.5 237v1M193.5 237v1M194.5 236v1M195.5 235v1M196.5 234v1M197.5 233v1M198.5 233v1M199.5 232v1M200.5 232v1M201.5 231v1M202.5 231v1M203.5 231v1M204.5 230v1M205.5 230v1M206.5 230v1M207.5 230v1M208.5 229v1M209.5 229v1M210.5 229v1M211.5 229v1M212.5 229v1M213.5 229v1M214.5 230v1M215.5 230v1M216.5 231v1M217.5 231v1M218.5 232v1M219.5 233v1M220.5 234v2M221.5 236v1M222.5 237v1M223.5 238v2M224.5 240v1M225.5 241v2M226.5 243v2M227.5 245v2M228.5 247v2M229.5 249v2M230.5 251v2M231.5 253v2M232.5 255v2M233.5 257v2M234.5 259v2M235.5 261v2M236.5 263v2M237.5 265v3M238.5 268v2M239.5 270v2M240.5 272v2M241.5 274v2M242.5 276v1M243.5 277v2M244.5 279v2M245.5 281v2M246.5 283v2M247.5 285v1M248.5 286v2M249.5 288v1M250.5 289v2M251.5 291v1M252.5 292v2M253.5 294v1M254.5 295v1M255.5 296v2M256.5 298v1M257.5 299v1M258.5 300v1M259.5 301v1M260.5 302v1M261.5 303v1M262.5 304v1M263.5 305v1M264.5 305v1M265.5 306v1M266.5 307v1M267.5 308v1M268.5 308v1M269.5 309v1M270.5 310v1M271.5 310v1M272.5 311v1M273.5 311v1M274.5 312v1M275.5 312v1M276.5 313v1M277.5 313v1M278.5 314v1M279.5 315v1M280.5 315v1M281.5 316v1M282.5 316v1M283.5 317v1M284.5 317v1M285.5 318v1M286.5 319v1M287.5 319v1M288.5 320v1M289.5 320v1M290.5 321v1M291.5 321v1M292.5 322v1M293.5 323v1M294.5 323v1M295.5 324v1M296.5 325v1M297.5 325v1M298.5 326v1M299.5 326v1M300.5 327v1M301.5 327v1M302.5 328v1M303.5 328v1M304.5 328v1M305.5 329v1M306.5 329v1M307.5 328v1M308.5 328v1M309.5 328v1M310.5 328v1M311.5 327v1M312.5 327v1M313.5 326v1M314.5 326v1M315.5 325v1M316.5 325v1M317.5 324v1M318.5 324v1M319.5 323v1M320.5 323v1M321.5 323v1M322.5 322v1M323.5 322v1M324.5 321v1M325.5 321v1M326.5 321v1M327.5 320v1M328.5 320v1M329.5 320v1M330.5 319v1M331.5 319v1M332.5 319v1M333.5 319v1M334.5 318v1M335.5 318v1M336.5 318v1M337.5 318v1M338.5 318v1M339.5 318v1M340.5 318v1M341.5 318v1M342.5 318v1M343.5 317v1M344.5 317v1M345.5 317v1M346.5 316v1M347.5 316v1M348.5 315v1M349.5 314v1M350.5 314v1M351.5 313v1M352.5 313v1M353.5 312v1M354.5 311v1M355.5 310v1M356.5 309v1M357.5 308v1M358.5 307v1M359.5 306v1M360.5 305v1M361.5 303v2M362.5 302v1M363.5 301v1M364.5 299v2M365.5 298v1M366.5 296v2M367.5 295v1M368.5 294v1M369.5 292v2M370.5 291v1M371.5 290v1M372.5 289v1M373.5 288v1M374.5 286v2M375.5 285v1M376.5 284v1M377.5 283v1M378.5 282v1M379.5 281v1M380.5 280v1M381.5 278v2M382.5 277v1M383.5 276v1M384.5 274v2M385.5 273v1M386.5 271v2M387.5 270v1M388.5 268v2M389.5 267v1M390.5 265v2M391.5 264v1M392.5 262v2M393.5 261v1M394.5 259v2M395.5 257v2M396.5 256v1M397.5 254v2M398.5 252v2M399.5 251v1M400.5 249v2M401.5 247v2M402.5 245v2M403.5 244v1M404.5 242v2M405.5 240v2M406.5 239v1M407.5 237v2M408.5 236v1M409.5 235v1M410.5 233v2M411.5 232v1M412.5 231v1M413.5 229v2M414.5 228v1M415.5 227v1M416.5 226v1M417.5 225v1M418.5 223v2M419.5 222v1M420.5 221v1M421.5 220v1M422.5 219v1M423.5 217v2M424.5 216v1M425.5 215v1M426.5 214v1M427.5 213v1M428.5 212v1M429.5 210v2M430.5 209v1M431.5 208v1M432.5 207v1M433.5 206v1M434.5 205v1M435.5 204v1M436.5 202v2M437.5 201v1M438.5 200v1M439.5 199v1M440.5 198v1M441.5 197v1M442.5 196v1M443.5 195v1M444.5 194v1M445.5 194v1M446.5 193v1M447.5 192v1M448.5 191v1M449.5 190v1M450.5 189v1M451.5 188v1M452.5 187v1M453.5 187v1M454.5 186v1M455.5 185v1M456.5 184v1M457.5 184v1M458.5 183v1M459.5 182v1M460.5 181v1M461.5 181v1M462.5 180v1M463.5 179v1M464.5 179v1M465.5 178v1M466.5 177v1M467.5 177v1M468.5 176v1M469.5 176v1M470.5 175v1M471.5 175v1M472.5 174v1M473.5 174v1M474.5 173v1M475.5 173v1M476.5 172v1M477.5 172v1M478.5 171v1M479.5 171v1M480.5 170v1M481.5 170v1M482.5 170v1M483.5 169v1M484.5 169v1M485.5 169v1M486.5 168v1M487.5 168v1M488.5 168v1M489.5 167v1M490.5 167v1M491.5 167v1M492.5 167v1M493.5 167v1M494.5 166v1M495.5 166v1M496.5 166v1M497.5 166v1M498.5 166v1M499.5 166v1M500.5 166v1M501.5 166v1M502.5 166v1M503.5 166v1M504.5 166v1M505.5 166v1M506.5 166v1M507.5 167v1M508.5 167v1M509.5 167v1M510.5 168v1M511.5 168v1M512.5 169v1M513.5 169v1M514.5 170v1M515.5 171v1M516.5 171v1M517.5 172v1M518.5 173v1M519.5 174v1M520.5 175v1M521.5 176v1M522.5 177v1M523.5 178v1M524.5 179v1M525.5 180v1M526.5 181v2M527.5 183v1M528.5 184v1M529.5 185v2M530.5 187v1M531.5 188v1M532.5 189v1M533.5 190v1M534.5 191v1M535.5 192v1M536.5 193v1M537.5 193v1M538.5 194v1M539.5 195v1M540.5 196v1M541.5 197v1M542.5 197v1M543.5 198v1M544.5 199v1M545.5 199v1M546.5 200v1M547.5 200v1M548.5 201v1M549.5 201v1M550.5 202v1M551.5 202v1M552.5 203v1M553.5 203v1M554.5 204v1M555.5 204v1M556.5 205v1M557.5 205v1M558.5 206v1M559.5 206v1M560.5 207v1M561.5 207v1M562.5 207v1M563.5 208v1M564.5 208v1M565.5 209v1M566.5 209v1M567.5 210v1M568.5 210v1M569.5 211v1M570.5 211v1M571.5 212v1M572.5 212v1M573.5 212v1M574.5 213v1M575.5 213v1M576.5 213v1M577.5 213v1M578.5 213v1M579.5 213v1M580.5 213v1M581.5 213v1M582.5 213v1M583.5 213v1M584.5 213v1M585.5 213v1M586.5 213v1M587.5 213v1M588.5 213v1M589.5 213v1M590.5 213v1M591.5 213v1M592.5 213v1M593.5 213v1M594.5 213v1M595.5 213v1M596.5 213v1M597.5 213v1M598.5 213v1M599.5 213v1M600.5 213v1M601.5 214v1M602.5 214v1M603.5 214v1M604.5 214v1M605.5 214v1M606.5 214v1M607.5 214v1M608.5 215v1M609.5 215v1M610.5 215v1M611.5 216v1M612.5 216v1M613.5 216v1M614.5 217v1M615.5 217v1M616.5 217v1M617.5 218v1M618.5 218v1M619.5 218v1M620.5 219v1M621.5 219v1M622.5 219v1M623.5 219v1M624.5 219v1M625.5 220v1M626.5 220v1M627.5 220v1M628.5 220v1M629.5 220v1M630.5 220v1M631.5 220v1M632.5 220v1M633.5 220v1M634.5 220v1M635.5 220v1M636.5 220v1M637.5 220v1M638.5 220v1M639.5 220v1M640.5 220v1M641.5 220v1M642.5 221v1M643.5 221v1M644.5 221v1M645.5 221v1M646.5 221v1M647.5 221v1M648.5 221v1M649.5 221v1M650.5 221v1M651.5 221v1M652.5 221v1M653.5 220v1M654.5 220v1M655.5 220v1M656.5 220v1M657.5 220v1M658.5 220v1M659.5 219v1M660.5 219v1M661.5 219v1M662.5 218v1M663.5 218v1M664.5 218v1M665.5 217v1M666.5 217v1M667.5 216v1M668.5 215v1M669.5 215v1M670.5 214v1M671.5 213v1M672.5 212v1M673.5 211v1M674.5 210v1M675.5 209v1M676.5 208v1M677.5 207v1M678.5 206v1M679.5 205v1M680.5 204v1M681.5 203v1M682.5 202v1M683.5 201v1M684.5 200v1M685.5 199v1M686.5 198v1M687.5 197v1M688.5 196v1M689.5 195v1M690.5 194v1M691.5 193v1M692.5 192v1M693.5 191v1M694.5 190v1M695.5 189v1M696.5 188v1M697.5 187v1M698.5 186v1M699.5 185v1M700.5 184v1M701.5 183v1M702.5 182v1M703.5 181v1M704.5 180v1M705.5 179v1M706.5 178v1M707.5 177v1M708.5 177v1M709.5 176v1M710.5 175v1M711.5 174v1M712.5 173v1M713.5 172v1M714.5 172v1M715.5 171v1M716.5 170v1M717.5 169v1M718.5 169v1M719.5 168v1M720.5 167v1M721.5 167v1M722.5 166v1M723.5 165v1M724.5 165v1M725.5 164v1M726.5 164v1M727.5 163v1M728.5 163v1M729.5 162v1M730.5 162v1M731.5 161v1M732.5 161v1M733.5 161v1M734.5 161v1M735.5 160v1M736.5 160v1M737.5 160v1M738.5 160v1M739.5 160v1M740.5 160v1M741.5 160v1M742.5 160v1M743.5 160v1M744.5 160v1M745.5 160v1M746.5 160v1M747.5 160v1M748.5 161v1M749.5 161v1M750.5 161v1M751.5 161v1M752.5 161v1M753.5 161v1M754.5 162v1M755.5 162v1M756.5 162v1M757.5 162v1M758.5 162v1M759.5 162v1M760.5 162v1M761.5 163v1M762.5 163v1M763.5 163v1M764.5 163v1M765.5 163v1M766.5 163v1M767.5 163v1M768.5 163v1M769.5 163v1M770.5 163v1M771.5 163v1M772.5 163v1M773.5 164v1M774.5 164v1M775.5 163v1M776.5 163v1M777.5 163v1M778.5 163v1M779.5 163v1M780.5 163v1M781.5 163v1M782.5 163v1M783.5 163v1M784.5 163v1M785.5 163v1M786.5 163v1M787.5 163v1M788.5 163v1M789.5 163v1M790.5 163v1M791.5 163v1M792.5 163v1M793.5 163v1M794.5 163v1M795.5 163v1M796.5 164v1M797.5 164v1M798.5 164v1M799.5 164v1M800.5 165v1M801.5 165v1M802.5 165v1M803.5 165v1M804.5 166v1M805.5 166v1M806.5 166v1M807.5 166v1M808.5 167v1M809.5 167v1M810.5 167v1M811.5 167v1M812.5 168v1M813.5 168v1M814.5 168v1M815.5 168v1M816.5 169v1M817.5 169v1M818.5 169v1M819.5 170v1M820.5 170v1M821.5 171v1M822.5 171v1M823.5 172v1M824.5 172v1M825.5 173v1M826.5 174v1M827.5 174v1M828.5 175v1M829.5 176v1M830.5 177v1M831.5 178v1M832.5 179v1M833.5 180v1M834.5 181v1M835.5 182v1M836.5 183v1M837.5 184v2M838.5 186v1M839.5 187v2M840.5 189v1M841.5 190v2M842.5 192v1M843.5 193v2M844.5 195v2M845.5 197v1M846.5 198v2M847.5 200v1M848.5 201v2M849.5 203v1M850.5 204v1M851.5 205v1M852.5 206v2M853.5 208v1M854.5 209v1M855.5 210v1M856.5 211v2M857.5 213v1M858.5 214v1M859.5 215v1M860.5 216v1M861.5 217v2M862.5 219v1M863.5 220v1M864.5 221v2M865.5 223v1M866.5 224v1M867.5 225v2M868.5 227v1M869.5 228v1M870.5 229v2M871.5 231v1M872.5 232v2M873.5 234v1M874.5 235v1M875.5 236v2M876.5 238v1M877.5 239v2M878.5 241v1M879.5 242v1M880.5 243v1M881.5 244v2M882.5 246v1M883.5 247v1M884.5 248v1M885.5 249v2M886.5 251v1M887.5 252v1M888.5 253v1M889.5 254v1M890.5 255v1M891.5 256v1M892.5 257v1M893.5 258v2M894.5 260v1M895.5 261v1M896.5 262v1M897.5 263v1M898.5 264v1M899.5 265v1M900.5 266v1M901.5 267v1M902.5 268v1M903.5 268v1M904.5 269v1M905.5 270v1M906.5 271v1M907.5 272v1M908.5 273v1M909.5 274v1M910.5 274v1M911.5 275v1M912.5 276v1M913.5 277v1M914.5 278v1M915.5 278v1M916.5 279v1M917.5 280v1M918.5 280v1M919.5 281v1M920.5 281v1M921.5 282v1M922.5 283v1M923.5 283v1M924.5 284v1M925.5 284v1M926.5 285v1M927.5 285v1M928.5 286v1M929.5 287v1M930.5 287v1M931.5 288v1M932.5 288v1M933.5 289v1M934.5 289v1M935.5 290v1M936.5 291v1M937.5 291v1M938.5 292v1M939.5 292v1M940.5 293v1M941.5 293v1M942.5 294v1M943.5 294v1M944.5 295v1M945.5 295v1M946.5 295v1M947.5 296v1M948.5 296v1M949.5 296v1M950.5 297v1M951.5 297v1M952.5 297v1M953.5 298v1M954.5 298v1M955.5 298v1M956.5 299v1M957.5 299v1M958.5 300v1M959.5 300v1M960.5 300v1M961.5 301v1M962.5 301v1M963.5 302v1M964.5 302v1M965.5 303v1M966.5 303v1M967.5 304v1M968.5 304v1M969.5 305v1M970.5 306v1M971.5 306v1M972.5 307v1M973.5 307v1M974.5 308v1M975.5 308v1M976.5 309v1M977.5 309v1M978.5 310v1M979.5 310v1M980.5 311v1M981.5 311v1M982.5 312v1M983.5 312v1M984.5 313v1M985.5 313v1M986.5 313v1M987.5 314v1M988.5 314v1M989.5 314v1M990.5 314v1M991.5 314v1M992.5 314v1M993.5 315v1M994.5 315v1M995.5 315v1M996.5 315v1M997.5 315v1M998.5 315v1M999.5 315v1M1000.5 315v1M1001.5 315v1M1002.5 315v1M1003.5 315v1M1004.5 315v1M1005.5 315v1M1006.5 314v1M1007.5 314v1M1008.5 313v1M1009.5 313v1M1010.5 312v1M1011.5 311v1M1012.5 310v1M1013.5 309v1M1014.5 308v1M1015.5 307v1M1016.5 305v2M1017.5 304v1M1018.5 303v1M1019.5 301v2M1020.5 300v1M1021.5 299v1M1022.5 298v1M1023.5 297v1M1024.5 295v2M1025.5 294v1M1026.5 293v1M1027.5 292v1M1028.5 291v1M1029.5 290v1M1030.5 289v1M1031.5 288v1M1032.5 287v1M1033.5 286v1M1034.5 284v2M1035.5 283v1M1036.5 282v1M1037.5 281v1M1038.5 280v1M1039.5 279v1M1040.5 277v2M1041.5 276v1M1042.5 275v1M1043.5 274v1M1044.5 273v1M1045.5 271v2M1046.5 270v1M1047.5 269v1M1048.5 268v1M1049.5 266v2M1050.5 265v1M1051.5 264v1M1052.5 262v2M1053.5 261v1M1054.5 260v1M1055.5 259v1M1056.5 257v2M1057.5 256v1M1058.5 255v1M1059.5 254v1M1060.5 252v2M1061.5 251v1M1062.5 250v1M1063.5 249v1M1064.5 247v2M1065.5 246v1M1066.5 245v1M1067.5 244v1M1068.5 242v2M1069.5 241v1M1070.5 240v1M1071.5 239v1M1072.5 237v2M1073.5 236v1M1074.5 235v1M1075.5 233v2M1076.5 232v1M1077.5 231v1M1078.5 229v2M1079.5 228v1M1080.5 227v1M1081.5 226v1M1082.5 224v2M1083.5 223v1M1084.5 222v1M1085.5 221v1M1086.5 219v2M1087.5 218v1M1088.5 217v1M1089.5 216v1M1090.5 215v1M1091.5 214v1M1092.5 214v1M1093.5 213v1M1094.5 212v1M1095.5 211v1M1096.5 210v1M1097.5 210v1M1098.5 209v1M1099.5 208v1M1100.5 208v1M1101.5 207v1M1102.5 206v1M1103.5 206v1M1104.5 205v1M1105.5 205v1M1106.5 204v1M1107.5 204v1M1108.5 203v1M1109.5 203v1M1110.5 202v1M1111.5 202v1M1112.5 202v1M1113.5 202v1M1114.5 201v1M1115.5 201v1M1116.5 201v1M1117.5 200v1M1118.5 200v1M1119.5 200v1M1120.5 200v1M1121.5 199v1M1122.5 199v1M1123.5 199v1M1124.5 199v1M1125.5 198v1M1126.5 198v1M1127.5 198v1M1128.5 198v1M1129.5 197v1M1130.5 197v1M1131.5 197v1M1132.5 197v1M1133.5 197v1M1134.5 196v1M1135.5 196v1M1136.5 196v1M1137.5 195v1M1138.5 195v1M1139.5 195v1M1140.5 194v1M1141.5 194v1M1142.5 194v1M1143.5 193v1M1144.5 193v1M1145.5 192v1M1146.5 192v1M1147.5 191v1M1148.5 191v1M1149.5 190v1M1150.5 190v1M1151.5 189v1M1152.5 189v1M1153.5 189v1M1154.5 188v1M1155.5 188v1M1156.5 188v1M1157.5 187v1M1158.5 187v1M1159.5 187v1M1160.5 187v1M1161.5 186v1M1162.5 186v1M1163.5 186v1M1164.5 186v1M1165.5 186v1M1166.5 185v1M1167.5 185v1M1168.5 185v1M1169.5 185v1M1170.5 185v1M1171.5 185v1M1172.5 185v1M1173.5 185v1M1174.5 185v1M1175.5 185v1M1176.5 185v1M1177.5 186v1M1178.5 186v1M1179.5 187v1M1180.5 188v2M1181.5 190v1M1182.5 191v1M1183.5 192v1M1184.5 193v2M1185.5 195v1M1186.5 196v1M1187.5 197v2M1188.5 199v1M1189.5 200v2M1190.5 202v1M1191.5 203v1M1192.5 204v2M1193.5 206v1M1194.5 207v1M1195.5 208v1M1196.5 209v1M1197.5 210v1M1198.5 211v2M1199.5 213v1M1200.5 214v1M1201.5 215v1M1202.5 216v1M1203.5 217v1M1204.5 218v1M1205.5 219v1M1206.5 220v2M1207.5 222v1M1208.5 223v1M1209.5 224v1M1210.5 225v1M1211.5 226v1M1212.5 227v1M1213.5 228v1M1214.5 229v1M1215.5 230v1M1216.5 231v1M1217.5 232v1M1218.5 233v1M1219.5 234v1M1220.5 235v1M1221.5 236v1M1222.5 237v1M1223.5 238v1M1224.5 239v1M1225.5 240v1M1226.5 241v1M1227.5 242v1M1228.5 242v1M1229.5 243v1M1230.5 244v1M1231.5 245v1M1232.5 246v1M1233.5 247v1M1234.5 248v1M1235.5 249v1M1236.5 249v1M1237.5 250v1M1238.5 251v1M1239.5 252v1M1240.5 253v1M1241.5 254v1M1242.5 255v1M1243.5 255v1M1244.5 256v1M1245.5 257v1M1246.5 258v1M1247.5 259v1M1248.5 260v1M1249.5 261v1M1250.5 262v1M1251.5 263v1M1252.5 264v1M1253.5 264v1M1254.5 265v1M1255.5 266v1M1256.5 267v1M1257.5 268v1M1258.5 269v1M1259.5 269v1M1260.5 270v1M1261.5 271v1M1262.5 272v1M1263.5 273v1M1264.5 274v1M1265.5 274v1M1266.5 275v1M1267.5 276v1M1268.5 276v1M1269.5 277v1M1270.5 277v1M1271.5 277v1M1272.5 278v1M1273.5 278v1M1274.5 278v1M1275.5 277v1M1276.5 277v1M1277.5 277v1M1278.5 277v1M1279.5 276v1M1280.5 276v1M1281.5 275v1M1282.5 275v1M1283.5 275v1M1284.5 274v1M1285.5 274v1M1286.5 274v1M1287.5 273v1M1288.5 273v1M1289.5 273v1M1290.5 272v1M1291.5 272v1M1292.5 271v1M1293.5 271v1M1294.5 271v1M1295.5 270v1" fill="none" stroke="#ff4500" stroke-width="1" shape-rendering="crispEdges"/>
<g shape-rendering="crispEdges">
<rect x="9" y="193" width="1630" height="1" fill="#c0c0c0"/>
<rect x="9" y="85" width="1630" height="2" fill="#ff0000"/>
<rect x="9" y="186" width="1630" height="2" fill="#ff0000"/>
<rect x="9" y="253" width="1630" height="2" fill="#00ff7f"/>
<rect x="9" y="357" width="1630" height="2" fill="#0000ff"/>
<rect x="9" y="466" width="1630" height="2" fill="#0000ff"/>
</g>
<g shape-rendering="crispEdges">
<rect x="9" y="410" width="1" height="37" fill="#32cd32"/>
<rect x="7" y="424" width="5" height="6" fill="#32cd32"/>
<rect x="17" y="429" width="1" height="46" fill="#32cd32"/>
<rect x="15" y="429" width="5" height="43" fill="#32cd32"/>
<rect x="25" y="458" width="1" height="62" fill="#ff4500"/>
<rect x="23" y="458" width="5" height="38" fill="#ff4500"/>
<rect x="33" y="412" width="1" height="55" fill="#ff4500"/>
<rect x="31" y="455" width="5" height="4" fill="#ff4500"/>
<rect x="41" y="332" width="1" height="128" fill="#ff4500"/>
<rect x="39" y="332" width="5" height="123" fill="#ff4500"/>
<rect x="49" y="315" width="1" height="40" fill="#32cd32"/>
<rect x="47" y="331" width="5" height="23" fill="#32cd32"/>
<rect x="57" y="137" width="1" height="165" fill="#ff4500"/>
<rect x="55" y="162" width="5" height="140" fill="#ff4500"/>
<rect x="65" y="120" width="1" height="47" fill="#ff4500"/>
<rect x="63" y="125" width="5" height="37" fill="#ff4500"/>
<rect x="89" y="100" width="1" height="72" fill="#32cd32"/>
<rect x="87" y="110" width="5" height="55" fill="#32cd32"/>
<rect x="97" y="151" width="1" height="62" fill="#32cd32"/>
<rect x="95" y="164" width="5" height="38" fill="#32cd32"/>
<rect x="105" y="181" width="1" height="57" fill="#32cd32"/>
<rect x="103" y="202" width="5" height="29" fill="#32cd32"/>
<rect x="113" y="229" width="1" height="70" fill="#32cd32"/>
<rect x="111" y="229" width="5" height="44" fill="#32cd32"/>
<rect x="121" y="214" width="1" height="65" fill="#ff4500"/>
<rect x="119" y="234" width="5" height="35" fill="#ff4500"/>
<rect x="129" y="153" width="1" height="121" fill="#ff4500"/>
<rect x="127" y="157" width="5" height="79" fill="#ff4500"/>
<rect x="137" y="145" width="1" height="115" fill="#32cd32"/>
<rect x="135" y="157" width="5" height="96" fill="#32cd32"/>
<rect x="145" y="220" width="1" height="52" fill="#32cd32"/>
<rect x="143" y="251" width="5" height="8" fill="#32cd32"/>
<rect x="153" y="292" width="1" height="100" fill="#ff4500"/>
<rect x="151" y="308" width="5" height="66" fill="#ff4500"/>
<rect x="161" y="295" width="1" height="67" fill="#ff4500"/>
<rect x="159" y="307" width="5" height="2" fill="#ff4500"/>
<rect x="169" y="289" width="1" height="58" fill="#ff4500"/>
<rect x="167" y="302" width="5" height="6" fill="#ff4500"/>
<rect x="177" y="222" width="1" height="85" fill="#ff4500"/>
<rect x="175" y="230" width="5" height="71" fill="#ff4500"/>
<rect x="185" y="186" width="1" height="70" fill="#32cd32"/>
<rect x="183" y="218" width="5" height="24" fill="#32cd32"/>
<rect x="193" y="232" width="1" height="73" fill="#32cd32"/>
<rect x="191" y="241" width="5" height="54" fill="#32cd32"/>
<rect x="201" y="275" width="1" height="41" fill="#ff4500"/>
<rect x="199" y="292" width="5" height="3" fill="#ff4500"/>
<rect x="209" y="280" width="1" height="45" fill="#ff4500"/>
<rect x="207" y="291" width="5" height="2" fill="#ff4500"/>
<rect x="217" y="273" width="1" height="118" fill="#32cd32"/>
<rect x="215" y="286" width="5" height="105" fill="#32cd32"/>
<rect x="225" y="360" width="1" height="46" fill="#ff4500"/>
<rect x="223" y="381" width="5" height="12" fill="#ff4500"/>
<rect x="233" y="382" width="1" height="53" fill="#32cd32"/>
<rect x="231" y="382" width="5" height="49" fill="#32cd32"/>
<rect x="241" y="418" width="1" height="53" fill="#32cd32"/>
<rect x="239" y="430" width="5" height="7" fill="#32cd32"/>
<rect x="249" y="400" width="1" height="66" fill="#ff4500"/>
<rect x="247" y="418" width="5" height="16" fill="#ff4500"/>
<rect x="257" y="330" width="1" height="90" fill="#ff4500"/>
<rect x="255" y="383" width="5" height="36" fill="#ff4500"/>
<rect x="265" y="309" width="1" height="74" fill="#ff4500"/>
<rect x="263" y="339" width="5" height="44" fill="#ff4500"/>
<rect x="273" y="335" width="1" height="53" fill="#32cd32"/>
<rect x="271" y="340" width="5" height="38" fill="#32cd32"/>
<rect x="281" y="295" width="1" height="86" fill="#ff4500"/>
<rect x="279" y="315" width="5" height="43" fill="#ff4500"/>
<rect x="289" y="307" width="1" height="49" fill="#000000"/>
<rect x="287" y="316" width="5" height="1" fill="#000000"/>
<rect x="297" y="265" width="1" height="64" fill="#ff4500"/>
<rect x="295" y="294" width="5" height="20" fill="#ff4500"/>
<rect x="305" y="292" width="1" height="38" fill="#32cd32"/>
<rect x="303" y="294" width="5" height="21" fill="#32cd32"/>
<rect x="313" y="193" width="1" height="69" fill="#ff4500"/>
<rect x="311" y="208" width="5" height="32" fill="#ff4500"/>
<rect x="321" y="189" width="1" height="47" fill="#ff4500"/>
<rect x="319" y="205" width="5" height="3" fill="#ff4500"/>
<rect x="329" y="197" width="1" height="59" fill="#32cd32"/>
<rect x="327" y="206" width="5" height="43" fill="#32cd32"/>
<rect x="337" y="248" width="1" height="37" fill="#32cd32"/>
<rect x="335" y="249" width="5" height="30" fill="#32cd32"/>
<rect x="345" y="104" width="1" height="87" fill="#32cd32"/>
<rect x="343" y="134" width="5" height="42" fill="#32cd32"/>
<rect x="353" y="143" width="1" height="43" fill="#ff4500"/>
<rect x="351" y="159" width="5" height="17" fill="#ff4500"/>
<rect x="361" y="89" width="1" height="70" fill="#ff4500"/>
<rect x="359" y="91" width="5" height="68" fill="#ff4500"/>
<rect x="369" y="62" width="1" height="56" fill="#ff4500"/>
<rect x="367" y="64" width="5" height="28" fill="#ff4500"/>
<rect x="377" y="97" width="1" height="37" fill="#ff4500"/>
<rect x="375" y="110" width="5" height="3" fill="#ff4500"/>
<rect x="385" y="108" width="1" height="54" fill="#32cd32"/>
<rect x="383" y="113" width="5" height="48" fill="#32cd32"/>
<rect x="393" y="148" width="1" height="44" fill="#32cd32"/>
<rect x="391" y="160" width="5" height="6" fill="#32cd32"/>
<rect x="401" y="127" width="1" height="43" fill="#ff4500"/>
<rect x="399" y="134" width="5" height="31" fill="#ff4500"/>
<rect x="409" y="138" width="1" height="59" fill="#32cd32"/>
<rect x="407" y="140" width="5" height="55" fill="#32cd32"/>
<rect x="417" y="174" width="1" height="43" fill="#32cd32"/>
<rect x="415" y="193" width="5" height="18" fill="#32cd32"/>
<rect x="425" y="163" width="1" height="48" fill="#ff4500"/>
<rect x="423" y="170" width="5" height="41" fill="#ff4500"/>
<rect x="433" y="156" width="1" height="37" fill="#ff4500"/>
<rect x="431" y="163" width="5" height="8" fill="#ff4500"/>
<rect x="441" y="135" width="1" height="56" fill="#32cd32"/>
<rect x="439" y="149" width="5" height="16" fill="#32cd32"/>
<rect x="449" y="128" width="1" height="54" fill="#ff4500"/>
<rect x="447" y="130" width="5" height="35" fill="#ff4500"/>
<rect x="457" y="106" width="1" height="106" fill="#32cd32"/>
<rect x="455" y="130" width="5" height="71" fill="#32cd32"/>
<rect x="465" y="187" width="1" height="39" fill="#32cd32"/>
<rect x="463" y="200" width="5" height="15" fill="#32cd32"/>
<rect x="473" y="151" width="1" height="48" fill="#32cd32"/>
<rect x="471" y="155" width="5" height="26" fill="#32cd32"/>
<rect x="481" y="145" width="1" height="52" fill="#ff4500"/>
<rect x="479" y="154" width="5" height="27" fill="#ff4500"/>
<rect x="489" y="151" width="1" height="59" fill="#32cd32"/>
<rect x="487" y="155" width="5" height="31" fill="#32cd32"/>
<rect x="497" y="185" width="1" height="44" fill="#32cd32"/>
<rect x="495" y="185" width="5" height="27" fill="#32cd32"/>
<rect x="505" y="245" width="1" height="30" fill="#32cd32"/>
<rect x="503" y="245" width="5" height="10" fill="#32cd32"/>
<rect x="513" y="238" width="1" height="47" fill="#32cd32"/>
<rect x="511" y="254" width="5" height="27" fill="#32cd32"/>
<rect x="521" y="250" width="1" height="32" fill="#ff4500"/>
<rect x="519" y="272" width="5" height="8" fill="#ff4500"/>
<rect x="529" y="265" width="1" height="25" fill="#32cd32"/>
<rect x="527" y="272" width="5" height="16" fill="#32cd32"/>
<rect x="537" y="254" width="1" height="48" fill="#ff4500"/>
<rect x="535" y="267" width="5" height="18" fill="#ff4500"/>
<rect x="545" y="230" width="1" height="47" fill="#ff4500"/>
<rect x="543" y="245" width="5" height="22" fill="#ff4500"/>
<rect x="553" y="229" width="1" height="31" fill="#32cd32"/>
<rect x="551" y="246" width="5" height="2" fill="#32cd32"/>
<rect x="561" y="215" width="1" height="37" fill="#ff4500"/>
<rect x="559" y="229" width="5" height="18" fill="#ff4500"/>
<rect x="569" y="240" width="1" height="54" fill="#ff4500"/>
<rect x="567" y="253" width="5" height="39" fill="#ff4500"/>
<rect x="577" y="208" width="1" height="67" fill="#ff4500"/>
<rect x="575" y="210" width="5" height="45" fill="#ff4500"/>
<rect x="585" y="148" width="1" height="61" fill="#ff4500"/>
<rect x="583" y="155" width="5" height="54" fill="#ff4500"/>
<rect x="593" y="133" width="1" height="46" fill="#32cd32"/>
<rect x="591" y="155" width="5" height="19" fill="#32cd32"/>
<rect x="601" y="168" width="1" height="39" fill="#32cd32"/>
<rect x="599" y="179" width="5" height="22" fill="#32cd32"/>
<rect x="609" y="182" width="1" height="35" fill="#ff4500"/>
<rect x="607" y="183" width="5" height="18" fill="#ff4500"/>
<rect x="617" y="177" width="1" height="52" fill="#32cd32"/>
<rect x="615" y="181" width="5" height="43" fill="#32cd32"/>
<rect x="625" y="222" width="1" height="26" fill="#32cd32"/>
<rect x="623" y="222" width="5" height="7" fill="#32cd32"/>
<rect x="633" y="189" width="1" height="46" fill="#ff4500"/>
<rect x="631" y="189" width="5" height="32" fill="#ff4500"/>
<rect x="641" y="174" width="1" height="47" fill="#32cd32"/>
<rect x="639" y="189" width="5" height="1" fill="#32cd32"/>
<rect x="649" y="161" width="1" height="38" fill="#ff4500"/>
<rect x="647" y="175" width="5" height="14" fill="#ff4500"/>
<rect x="657" y="155" width="1" height="34" fill="#ff4500"/>
<rect x="655" y="159" width="5" height="17" fill="#ff4500"/>
<rect x="665" y="140" width="1" height="51" fill="#32cd32"/>
<rect x="663" y="156" width="5" height="32" fill="#32cd32"/>
<rect x="673" y="100" width="1" height="96" fill="#ff4500"/>
<rect x="671" y="100" width="5" height="89" fill="#ff4500"/>
<rect x="681" y="84" width="1" height="42" fill="#ff4500"/>
<rect x="679" y="93" width="5" height="7" fill="#ff4500"/>
<rect x="689" y="91" width="1" height="55" fill="#32cd32"/>
<rect x="687" y="93" width="5" height="48" fill="#32cd32"/>
<rect x="697" y="86" width="1" height="64" fill="#ff4500"/>
<rect x="695" y="100" width="5" height="26" fill="#ff4500"/>
<rect x="705" y="97" width="1" height="41" fill="#32cd32"/>
<rect x="703" y="101" width="5" height="12" fill="#32cd32"/>
<rect x="713" y="91" width="1" height="30" fill="#ff4500"/>
<rect x="711" y="110" width="5" height="3" fill="#ff4500"/>
<rect x="721" y="79" width="1" height="33" fill="#ff4500"/>
<rect x="719" y="80" width="5" height="30" fill="#ff4500"/>
<rect x="729" y="104" width="1" height="67" fill="#32cd32"/>
<rect x="727" y="111" width="5" height="58" fill="#32cd32"/>
<rect x="737" y="154" width="1" height="46" fill="#32cd32"/>
<rect x="735" y="169" width="5" height="29" fill="#32cd32"/>
<rect x="745" y="181" width="1" height="23" fill="#ff4500"/>
<rect x="743" y="197" width="5" height="2" fill="#ff4500"/>
<rect x="753" y="195" width="1" height="24" fill="#ff4500"/>
<rect x="751" y="197" width="5" height="2" fill="#ff4500"/>
<rect x="761" y="192" width="1" height="58" fill="#ff4500"/>
<rect x="759" y="219" width="5" height="31" fill="#ff4500"/>
<rect x="769" y="184" width="1" height="43" fill="#ff4500"/>
<rect x="767" y="195" width="5" height="24" fill="#ff4500"/>
<rect x="777" y="179" width="1" height="37" fill="#32cd32"/>
<rect x="775" y="195" width="5" height="4" fill="#32cd32"/>
<rect x="785" y="195" width="1" height="17" fill="#32cd32"/>
<rect x="783" y="199" width="5" height="2" fill="#32cd32"/>
<rect x="793" y="185" width="1" height="52" fill="#32cd32"/>
<rect x="791" y="185" width="5" height="47" fill="#32cd32"/>
<rect x="801" y="214" width="1" height="40" fill="#32cd32"/>
<rect x="799" y="231" width="5" height="19" fill="#32cd32"/>
<rect x="809" y="211" width="1" height="39" fill="#ff4500"/>
<rect x="807" y="211" width="5" height="39" fill="#ff4500"/>
<rect x="817" y="197" width="1" height="22" fill="#32cd32"/>
<rect x="815" y="212" width="5" height="5" fill="#32cd32"/>
<rect x="825" y="222" width="1" height="63" fill="#32cd32"/>
<rect x="823" y="227" width="5" height="55" fill="#32cd32"/>
<rect x="833" y="271" width="1" height="36" fill="#32cd32"/>
<rect x="831" y="281" width="5" height="14" fill="#32cd32"/>
<rect x="841" y="293" width="1" height="53" fill="#32cd32"/>
<rect x="839" y="296" width="5" height="48" fill="#32cd32"/>
<rect x="849" y="304" width="1" height="42" fill="#ff4500"/>
<rect x="847" y="339" width="5" height="6" fill="#ff4500"/>
<rect x="857" y="295" width="1" height="46" fill="#ff4500"/>
<rect x="855" y="306" width="5" height="19" fill="#ff4500"/>
<rect x="865" y="300" width="1" height="46" fill="#32cd32"/>
<rect x="863" y="306" width="5" height="6" fill="#32cd32"/>
<rect x="873" y="306" width="1" height="33" fill="#32cd32"/>
<rect x="871" y="314" width="5" height="22" fill="#32cd32"/>
<rect x="881" y="328" width="1" height="39" fill="#32cd32"/>
<rect x="879" y="337" width="5" height="10" fill="#32cd32"/>
<rect x="889" y="310" width="1" height="37" fill="#ff4500"/>
<rect x="887" y="317" width="5" height="14" fill="#ff4500"/>
<rect x="897" y="314" width="1" height="30" fill="#32cd32"/>
<rect x="895" y="317" width="5" height="8" fill="#32cd32"/>
<rect x="905" y="320" width="1" height="41" fill="#32cd32"/>
<rect x="903" y="323" width="5" height="33" fill="#32cd32"/>
<rect x="913" y="351" width="1" height="27" fill="#ff4500"/>
<rect x="911" y="351" width="5" height="5" fill="#ff4500"/>
<rect x="921" y="334" width="1" height="33" fill="#ff4500"/>
<rect x="919" y="342" width="5" height="9" fill="#ff4500"/>
<rect x="929" y="272" width="1" height="73" fill="#ff4500"/>
<rect x="927" y="275" width="5" height="68" fill="#ff4500"/>
<rect x="937" y="272" width="1" height="28" fill="#32cd32"/>
<rect x="935" y="276" width="5" height="2" fill="#32cd32"/>
<rect x="945" y="270" width="1" height="28" fill="#32cd32"/>
<rect x="943" y="278" width="5" height="6" fill="#32cd32"/>
<rect x="953" y="241" width="1" height="35" fill="#32cd32"/>
<rect x="951" y="249" width="5" height="27" fill="#32cd32"/>
<rect x="961" y="266" width="1" height="19" fill="#ff4500"/>
<rect x="959" y="269" width="5" height="8" fill="#ff4500"/>
<rect x="969" y="268" width="1" height="48" fill="#32cd32"/>
<rect x="967" y="270" width="5" height="40" fill="#32cd32"/>
<rect x="977" y="309" width="1" height="41" fill="#32cd32"/>
<rect x="975" y="309" width="5" height="30" fill="#32cd32"/>
<rect x="985" y="304" width="1" height="35" fill="#ff4500"/>
<rect x="983" y="320" width="5" height="19" fill="#ff4500"/>
<rect x="993" y="287" width="1" height="42" fill="#ff4500"/>
<rect x="991" y="310" width="5" height="12" fill="#ff4500"/>
<rect x="1001" y="296" width="1" height="52" fill="#32cd32"/>
<rect x="999" y="311" width="5" height="2" fill="#32cd32"/>
<rect x="1009" y="268" width="1" height="45" fill="#ff4500"/>
<rect x="1007" y="287" width="5" height="26" fill="#ff4500"/>
<rect x="1017" y="100" width="1" height="84" fill="#ff4500"/>
<rect x="1015" y="108" width="5" height="24" fill="#ff4500"/>
<rect x="1025" y="98" width="1" height="30" fill="#ff4500"/>
<rect x="1023" y="104" width="5" height="3" fill="#ff4500"/>
<rect x="1033" y="102" width="1" height="34" fill="#32cd32"/>
<rect x="1031" y="103" width="5" height="21" fill="#32cd32"/>
<rect x="1041" y="116" width="1" height="37" fill="#32cd32"/>
<rect x="1039" y="121" width="5" height="19" fill="#32cd32"/>
<rect x="1049" y="133" width="1" height="24" fill="#ff4500"/>
<rect x="1047" y="143" width="5" height="10" fill="#ff4500"/>
<rect x="1057" y="128" width="1" height="19" fill="#ff4500"/>
<rect x="1055" y="133" width="5" height="10" fill="#ff4500"/>
<rect x="1065" y="138" width="1" height="25" fill="#32cd32"/>
<rect x="1063" y="138" width="5" height="16" fill="#32cd32"/>
<rect x="1073" y="116" width="1" height="43" fill="#ff4500"/>
<rect x="1071" y="123" width="5" height="31" fill="#ff4500"/>
<rect x="1081" y="134" width="1" height="50" fill="#ff4500"/>
<rect x="1079" y="140" width="5" height="44" fill="#ff4500"/>
<rect x="1089" y="114" width="1" height="31" fill="#ff4500"/>
<rect x="1087" y="117" width="5" height="23" fill="#ff4500"/>
<rect x="1097" y="117" width="1" height="38" fill="#32cd32"/>
<rect x="1095" y="117" width="5" height="36" fill="#32cd32"/>
<rect x="1105" y="129" width="1" height="30" fill="#ff4500"/>
<rect x="1103" y="149" width="5" height="4" fill="#ff4500"/>
<rect x="1113" y="195" width="1" height="43" fill="#32cd32"/>
<rect x="1111" y="204" width="5" height="19" fill="#32cd32"/>
<rect x="1121" y="221" width="1" height="34" fill="#32cd32"/>
<rect x="1119" y="222" width="5" height="21" fill="#32cd32"/>
<rect x="1129" y="242" width="1" height="25" fill="#32cd32"/>
<rect x="1127" y="242" width="5" height="18" fill="#32cd32"/>
<rect x="1137" y="249" width="1" height="19" fill="#ff4500"/>
<rect x="1135" y="256" width="5" height="5" fill="#ff4500"/>
<rect x="1145" y="239" width="1" height="15" fill="#32cd32"/>
<rect x="1143" y="242" width="5" height="9" fill="#32cd32"/>
<rect x="1153" y="242" width="1" height="21" fill="#32cd32"/>
<rect x="1151" y="249" width="5" height="3" fill="#32cd32"/>
<rect x="1161" y="244" width="1" height="16" fill="#32cd32"/>
<rect x="1159" y="251" width="5" height="8" fill="#32cd32"/>
<rect x="1169" y="254" width="1" height="17" fill="#32cd32"/>
<rect x="1167" y="258" width="5" height="10" fill="#32cd32"/>
<rect x="1177" y="278" width="1" height="41" fill="#32cd32"/>
<rect x="1175" y="300" width="5" height="16" fill="#32cd32"/>
<rect x="1185" y="311" width="1" height="20" fill="#32cd32"/>
<rect x="1183" y="316" width="5" height="4" fill="#32cd32"/>
<rect x="1193" y="314" width="1" height="25" fill="#ff4500"/>
<rect x="1191" y="316" width="5" height="5" fill="#ff4500"/>
<rect x="1201" y="300" width="1" height="23" fill="#32cd32"/>
<rect x="1199" y="316" width="5" height="3" fill="#32cd32"/>
<rect x="1209" y="297" width="1" height="16" fill="#ff4500"/>
<rect x="1207" y="307" width="5" height="4" fill="#ff4500"/>
<rect x="1217" y="291" width="1" height="25" fill="#32cd32"/>
<rect x="1215" y="307" width="5" height="2" fill="#32cd32"/>
<rect x="1225" y="306" width="1" height="19" fill="#32cd32"/>
<rect x="1223" y="308" width="5" height="15" fill="#32cd32"/>
<rect x="1233" y="292" width="1" height="36" fill="#ff4500"/>
<rect x="1231" y="293" width="5" height="31" fill="#ff4500"/>
<rect x="1241" y="264" width="1" height="23" fill="#32cd32"/>
<rect x="1239" y="268" width="5" height="14" fill="#32cd32"/>
<rect x="1249" y="280" width="1" height="19" fill="#32cd32"/>
<rect x="1247" y="280" width="5" height="13" fill="#32cd32"/>
<rect x="1257" y="276" width="1" height="22" fill="#000000"/>
<rect x="1255" y="293" width="5" height="1" fill="#000000"/>
<rect x="1265" y="259" width="1" height="39" fill="#ff4500"/>
<rect x="1263" y="281" width="5" height="12" fill="#ff4500"/>
<rect x="1273" y="190" width="1" height="83" fill="#ff4500"/>
<rect x="1271" y="190" width="5" height="71" fill="#ff4500"/>
<rect x="1281" y="161" width="1" height="35" fill="#ff4500"/>
<rect x="1279" y="167" width="5" height="23" fill="#ff4500"/>
<rect x="1289" y="164" width="1" height="28" fill="#32cd32"/>
<rect x="1287" y="168" width="5" height="19" fill="#32cd32"/>
<rect x="1297" y="177" width="1" height="18" fill="#32cd32"/>
<rect x="1295" y="186" width="5" height="8" fill="#32cd32"/>
</g>
</g>
<text y="424" fill="#ff1a14"><tspan x="968.7" font-size="33" textLength="165.5" lengthAdjust="spacingAndGlyphs">多空转折点</tspan><tspan x="1135" y="422.4" font-size="34.6" textLength="101.8" lengthAdjust="spacingAndGlyphs">3187.5</tspan></text>
<path d="M12 50 L21 50 L16.5 45 Z" fill="#000"/>
<text x="27.8" y="51.5" font-size="12" fill="#000" textLength="76.8" lengthAdjust="spacingAndGlyphs">CHINA300-,H1</text>
<text x="114.2" y="51.5" font-size="12" fill="#000" textLength="38.2" lengthAdjust="spacing">3229.9</text>
<text x="157.4" y="51.5" font-size="12" fill="#000" textLength="38.2" lengthAdjust="spacing">3235.1</text>
<text x="200.4" y="51.5" font-size="12" fill="#000" textLength="38.2" lengthAdjust="spacing">3224.5</text>
<text x="243.3" y="51.5" font-size="12" fill="#000" textLength="38.2" lengthAdjust="spacing">3225.3</text>
<g shape-rendering="crispEdges">
<rect x="10" y="58" width="287" height="80" fill="#ffffff"/>
<rect x="12" y="87" width="141" height="49" fill="url(#gPrice)"/>
<rect x="155" y="87" width="140" height="49" fill="url(#gPrice)"/>
<rect x="153" y="87" width="2" height="49" fill="#ffffff"/>
<rect x="12" y="60" width="67" height="27" fill="url(#gTab)"/>
<rect x="227" y="60" width="68" height="27" fill="url(#gTab)"/>
<rect x="12" y="60" width="67" height="1" fill="#d02828"/><rect x="12" y="60" width="1" height="76" fill="#c82020"/><rect x="78" y="60" width="1" height="27" fill="#d02828"/>
<rect x="227" y="60" width="68" height="1" fill="#d02828"/><rect x="294" y="60" width="1" height="76" fill="#c82020"/><rect x="227" y="60" width="1" height="27" fill="#d02828"/>
<rect x="12" y="135" width="283" height="1" fill="#a00000"/>
<rect x="153" y="87" width="2" height="49" fill="#ffffff"/>
<rect x="16" y="86" width="60" height="1" fill="#8c1010"/><rect x="16" y="87" width="60" height="1" fill="#f06060"/>
<rect x="231" y="86" width="60" height="1" fill="#8c1010"/><rect x="231" y="87" width="60" height="1" fill="#f06060"/>
<rect x="79" y="60" width="148" height="27" fill="#ffffff"/>
<rect x="82" y="60" width="143" height="25" fill="#ffffff" stroke="none"/>
<rect x="82" y="60" width="143" height="1" fill="#abadb3"/><rect x="82" y="84" width="143" height="1" fill="#abadb3"/><rect x="82" y="60" width="1" height="25" fill="#abadb3"/><rect x="224" y="60" width="1" height="25" fill="#abadb3"/>
<rect x="83" y="61" width="23" height="23" fill="url(#gBtn)"/><rect x="106" y="61" width="1" height="23" fill="#abadb3"/>
<rect x="201" y="61" width="23" height="23" fill="url(#gBtn)"/><rect x="200" y="61" width="1" height="23" fill="#abadb3"/>
</g>
<path d="M91 71 L98.2 71 L94.6 75.2 Z" fill="#4a63c4"/>
<path d="M209 75 L216.2 75 L212.6 70.8 Z" fill="#4a63c4"/>
<text x="29.7" y="78.8" font-size="15" fill="#fff0ea" textLength="32" lengthAdjust="spacingAndGlyphs">SELL</text>
<text x="247" y="78.8" font-size="15" fill="#fff0ea" textLength="27.2" lengthAdjust="spacingAndGlyphs">BUY</text>
<text x="167.2" y="77.7" font-size="15" fill="#000" textLength="28.7" lengthAdjust="spacingAndGlyphs">1.00</text>
<text x="42.9" y="124.4" font-size="14" font-weight="bold" fill="#fff" textLength="34.1" lengthAdjust="spacingAndGlyphs">3223</text>
<text x="184.9" y="124.4" font-size="14" font-weight="bold" fill="#fff" textLength="34.1" lengthAdjust="spacingAndGlyphs">3229</text>
<text x="79.6" y="124.9" font-size="48" fill="#fff">.</text>
<text x="222.9" y="124.9" font-size="48" fill="#fff">.</text>
<text transform="translate(91.8 124.4) scale(0.927 1)" font-size="41.2" fill="#fff">8</text>
<text transform="translate(233.2 124.4) scale(0.927 1)" font-size="41.2" fill="#fff">4</text>
<g shape-rendering="crispEdges">
<rect x="1639" y="72" width="2" height="1" fill="#000"/>
<rect x="1639" y="121" width="2" height="1" fill="#000"/>
<rect x="1639" y="170" width="2" height="1" fill="#000"/>
<rect x="1639" y="219" width="2" height="1" fill="#000"/>
<rect x="1639" y="268" width="2" height="1" fill="#000"/>
<rect x="1639" y="317" width="2" height="1" fill="#000"/>
<rect x="1639" y="366" width="2" height="1" fill="#000"/>
<rect x="1639" y="415" width="2" height="1" fill="#000"/>
<rect x="1639" y="464" width="2" height="1" fill="#000"/>
<rect x="1639" y="513" width="2" height="1" fill="#000"/>
</g>
<text x="1645.2" y="77" font-size="12" fill="#000" textLength="38.2" lengthAdjust="spacing">3300.0</text>
<text x="1645.2" y="126" font-size="12" fill="#000" textLength="38.2" lengthAdjust="spacing">3270.0</text>
<text x="1645.2" y="175" font-size="12" fill="#000" textLength="38.2" lengthAdjust="spacing">3239.5</text>
<text x="1645.2" y="224" font-size="12" fill="#000" textLength="38.2" lengthAdjust="spacing">3209.5</text>
<text x="1645.2" y="273" font-size="12" fill="#000" textLength="38.2" lengthAdjust="spacing">3179.0</text>
<text x="1645.2" y="322" font-size="12" fill="#000" textLength="38.2" lengthAdjust="spacing">3148.5</text>
<text x="1645.2" y="371" font-size="12" fill="#000" textLength="38.2" lengthAdjust="spacing">3118.5</text>
<text x="1645.2" y="420" font-size="12" fill="#000" textLength="38.2" lengthAdjust="spacing">3088.0</text>
<text x="1645.2" y="469" font-size="12" fill="#000" textLength="38.2" lengthAdjust="spacing">3057.5</text>
<text x="1645.2" y="518" font-size="12" fill="#000" textLength="38.2" lengthAdjust="spacing">3027.5</text>
<rect x="1640" y="188" width="46" height="12" fill="#000000" shape-rendering="crispEdges"/>
<text x="1645.2" y="198" font-size="12" fill="#fff" textLength="38.2" lengthAdjust="spacing">3225.3</text>
<rect x="1640" y="80" width="46" height="14" fill="#ff0000" shape-rendering="crispEdges"/>
<text x="1645.2" y="92" font-size="12" fill="#fff" textLength="38.2" lengthAdjust="spacing">3291.8</text>
<rect x="1640" y="181" width="46" height="14" fill="#ff0000" shape-rendering="crispEdges"/>
<text x="1645.2" y="193" font-size="12" fill="#fff" textLength="38.2" lengthAdjust="spacing">3229.4</text>
<rect x="1640" y="248" width="46" height="14" fill="#00ff7f" shape-rendering="crispEdges"/>
<text x="1645.2" y="260" font-size="12" fill="#fff" textLength="38.2" lengthAdjust="spacing">3187.5</text>
<rect x="1640" y="352" width="46" height="14" fill="#0000ff" shape-rendering="crispEdges"/>
<text x="1645.2" y="364" font-size="12" fill="#fff" textLength="38.2" lengthAdjust="spacing">3123.5</text>
<rect x="1640" y="461" width="46" height="14" fill="#0000ff" shape-rendering="crispEdges"/>
<text x="1645.2" y="473" font-size="12" fill="#fff" textLength="38.2" lengthAdjust="spacing">3056.1</text>
<text x="12.5" y="549.5" font-size="12" fill="#000" textLength="146.8" lengthAdjust="spacing">MACD(12,26,9) 5.49 -7.42</text>
<g shape-rendering="crispEdges">
<rect x="9" y="560" width="1" height="32" fill="#c0c0c0"/>
<rect x="17" y="560" width="1" height="32" fill="#c0c0c0"/>
<rect x="25" y="560" width="1" height="32" fill="#c0c0c0"/>
<rect x="33" y="560" width="1" height="31" fill="#c0c0c0"/>
<rect x="41" y="560" width="1" height="27" fill="#c0c0c0"/>
<rect x="49" y="560" width="1" height="23" fill="#c0c0c0"/>
<rect x="57" y="560" width="1" height="14" fill="#c0c0c0"/>
<rect x="65" y="560" width="1" height="6" fill="#c0c0c0"/>
<rect x="73" y="557" width="1" height="4" fill="#c0c0c0"/>
<rect x="81" y="553" width="1" height="8" fill="#c0c0c0"/>
<rect x="89" y="550" width="1" height="11" fill="#c0c0c0"/>
<rect x="97" y="549" width="1" height="12" fill="#c0c0c0"/>
<rect x="105" y="549" width="1" height="12" fill="#c0c0c0"/>
<rect x="113" y="550" width="1" height="11" fill="#c0c0c0"/>
<rect x="121" y="552" width="1" height="9" fill="#c0c0c0"/>
<rect x="129" y="551" width="1" height="10" fill="#c0c0c0"/>
<rect x="137" y="552" width="1" height="9" fill="#c0c0c0"/>
<rect x="145" y="553" width="1" height="8" fill="#c0c0c0"/>
<rect x="153" y="556" width="1" height="5" fill="#c0c0c0"/>
<rect x="161" y="558" width="1" height="3" fill="#c0c0c0"/>
<rect x="169" y="559" width="1" height="2" fill="#c0c0c0"/>
<rect x="177" y="559" width="1" height="2" fill="#c0c0c0"/>
<rect x="185" y="559" width="1" height="2" fill="#c0c0c0"/>
<rect x="193" y="560" width="1" height="1" fill="#c0c0c0"/>
<rect x="201" y="560" width="1" height="1" fill="#c0c0c0"/>
<rect x="209" y="560" width="1" height="2" fill="#c0c0c0"/>
<rect x="217" y="560" width="1" height="2" fill="#c0c0c0"/>
<rect x="225" y="560" width="1" height="4" fill="#c0c0c0"/>
<rect x="233" y="560" width="1" height="8" fill="#c0c0c0"/>
<rect x="241" y="560" width="1" height="11" fill="#c0c0c0"/>
<rect x="249" y="560" width="1" height="14" fill="#c0c0c0"/>
<rect x="257" y="560" width="1" height="17" fill="#c0c0c0"/>
<rect x="265" y="560" width="1" height="17" fill="#c0c0c0"/>
<rect x="273" y="560" width="1" height="16" fill="#c0c0c0"/>
<rect x="281" y="560" width="1" height="15" fill="#c0c0c0"/>
<rect x="289" y="560" width="1" height="14" fill="#c0c0c0"/>
<rect x="297" y="560" width="1" height="11" fill="#c0c0c0"/>
<rect x="305" y="560" width="1" height="9" fill="#c0c0c0"/>
<rect x="313" y="560" width="1" height="6" fill="#c0c0c0"/>
<rect x="321" y="560" width="1" height="3" fill="#c0c0c0"/>
<rect x="329" y="559" width="1" height="2" fill="#c0c0c0"/>
<rect x="337" y="557" width="1" height="4" fill="#c0c0c0"/>
<rect x="345" y="556" width="1" height="5" fill="#c0c0c0"/>
<rect x="353" y="553" width="1" height="8" fill="#c0c0c0"/>
<rect x="361" y="549" width="1" height="12" fill="#c0c0c0"/>
<rect x="369" y="545" width="1" height="16" fill="#c0c0c0"/>
<rect x="377" y="541" width="1" height="20" fill="#c0c0c0"/>
<rect x="385" y="539" width="1" height="22" fill="#c0c0c0"/>
<rect x="393" y="539" width="1" height="22" fill="#c0c0c0"/>
<rect x="401" y="539" width="1" height="22" fill="#c0c0c0"/>
<rect x="409" y="540" width="1" height="21" fill="#c0c0c0"/>
<rect x="417" y="541" width="1" height="20" fill="#c0c0c0"/>
<rect x="425" y="542" width="1" height="19" fill="#c0c0c0"/>
<rect x="433" y="542" width="1" height="19" fill="#c0c0c0"/>
<rect x="441" y="542" width="1" height="19" fill="#c0c0c0"/>
<rect x="449" y="542" width="1" height="19" fill="#c0c0c0"/>
<rect x="457" y="543" width="1" height="18" fill="#c0c0c0"/>
<rect x="465" y="545" width="1" height="16" fill="#c0c0c0"/>
<rect x="473" y="547" width="1" height="14" fill="#c0c0c0"/>
<rect x="481" y="548" width="1" height="13" fill="#c0c0c0"/>
<rect x="489" y="549" width="1" height="12" fill="#c0c0c0"/>
<rect x="497" y="551" width="1" height="10" fill="#c0c0c0"/>
<rect x="505" y="553" width="1" height="8" fill="#c0c0c0"/>
<rect x="513" y="557" width="1" height="4" fill="#c0c0c0"/>
<rect x="521" y="559" width="1" height="2" fill="#c0c0c0"/>
<rect x="529" y="560" width="1" height="2" fill="#c0c0c0"/>
<rect x="537" y="560" width="1" height="4" fill="#c0c0c0"/>
<rect x="545" y="560" width="1" height="6" fill="#c0c0c0"/>
<rect x="553" y="560" width="1" height="5" fill="#c0c0c0"/>
<rect x="561" y="560" width="1" height="5" fill="#c0c0c0"/>
<rect x="569" y="560" width="1" height="5" fill="#c0c0c0"/>
<rect x="577" y="560" width="1" height="3" fill="#c0c0c0"/>
<rect x="585" y="559" width="1" height="2" fill="#c0c0c0"/>
<rect x="593" y="559" width="1" height="2" fill="#c0c0c0"/>
<rect x="601" y="559" width="1" height="2" fill="#c0c0c0"/>
<rect x="609" y="559" width="1" height="2" fill="#c0c0c0"/>
<rect x="617" y="559" width="1" height="2" fill="#c0c0c0"/>
<rect x="625" y="559" width="1" height="2" fill="#c0c0c0"/>
<rect x="633" y="559" width="1" height="2" fill="#c0c0c0"/>
<rect x="641" y="559" width="1" height="2" fill="#c0c0c0"/>
<rect x="649" y="558" width="1" height="3" fill="#c0c0c0"/>
<rect x="657" y="557" width="1" height="4" fill="#c0c0c0"/>
<rect x="665" y="556" width="1" height="5" fill="#c0c0c0"/>
<rect x="673" y="554" width="1" height="7" fill="#c0c0c0"/>
<rect x="681" y="552" width="1" height="9" fill="#c0c0c0"/>
<rect x="689" y="551" width="1" height="10" fill="#c0c0c0"/>
<rect x="697" y="550" width="1" height="11" fill="#c0c0c0"/>
<rect x="705" y="549" width="1" height="12" fill="#c0c0c0"/>
<rect x="713" y="549" width="1" height="12" fill="#c0c0c0"/>
<rect x="721" y="548" width="1" height="13" fill="#c0c0c0"/>
<rect x="729" y="549" width="1" height="12" fill="#c0c0c0"/>
<rect x="737" y="551" width="1" height="10" fill="#c0c0c0"/>
<rect x="745" y="553" width="1" height="8" fill="#c0c0c0"/>
<rect x="753" y="556" width="1" height="5" fill="#c0c0c0"/>
<rect x="761" y="558" width="1" height="3" fill="#c0c0c0"/>
<rect x="769" y="559" width="1" height="2" fill="#c0c0c0"/>
<rect x="777" y="560" width="1" height="1" fill="#c0c0c0"/>
<rect x="785" y="560" width="1" height="2" fill="#c0c0c0"/>
<rect x="793" y="560" width="1" height="2" fill="#c0c0c0"/>
<rect x="801" y="560" width="1" height="4" fill="#c0c0c0"/>
<rect x="809" y="560" width="1" height="4" fill="#c0c0c0"/>
<rect x="817" y="560" width="1" height="4" fill="#c0c0c0"/>
<rect x="825" y="560" width="1" height="7" fill="#c0c0c0"/>
<rect x="833" y="560" width="1" height="9" fill="#c0c0c0"/>
<rect x="841" y="560" width="1" height="13" fill="#c0c0c0"/>
<rect x="849" y="560" width="1" height="14" fill="#c0c0c0"/>
<rect x="857" y="560" width="1" height="16" fill="#c0c0c0"/>
<rect x="865" y="560" width="1" height="16" fill="#c0c0c0"/>
<rect x="873" y="560" width="1" height="17" fill="#c0c0c0"/>
<rect x="881" y="560" width="1" height="18" fill="#c0c0c0"/>
<rect x="889" y="560" width="1" height="17" fill="#c0c0c0"/>
<rect x="897" y="560" width="1" height="17" fill="#c0c0c0"/>
<rect x="905" y="560" width="1" height="18" fill="#c0c0c0"/>
<rect x="913" y="560" width="1" height="19" fill="#c0c0c0"/>
<rect x="921" y="560" width="1" height="18" fill="#c0c0c0"/>
<rect x="929" y="560" width="1" height="14" fill="#c0c0c0"/>
<rect x="937" y="560" width="1" height="13" fill="#c0c0c0"/>
<rect x="945" y="560" width="1" height="11" fill="#c0c0c0"/>
<rect x="953" y="560" width="1" height="9" fill="#c0c0c0"/>
<rect x="961" y="560" width="1" height="8" fill="#c0c0c0"/>
<rect x="969" y="560" width="1" height="8" fill="#c0c0c0"/>
<rect x="977" y="560" width="1" height="9" fill="#c0c0c0"/>
<rect x="985" y="560" width="1" height="9" fill="#c0c0c0"/>
<rect x="993" y="560" width="1" height="9" fill="#c0c0c0"/>
<rect x="1001" y="560" width="1" height="9" fill="#c0c0c0"/>
<rect x="1009" y="560" width="1" height="7" fill="#c0c0c0"/>
<rect x="1017" y="559" width="1" height="2" fill="#c0c0c0"/>
<rect x="1025" y="554" width="1" height="7" fill="#c0c0c0"/>
<rect x="1033" y="550" width="1" height="11" fill="#c0c0c0"/>
<rect x="1041" y="548" width="1" height="13" fill="#c0c0c0"/>
<rect x="1049" y="547" width="1" height="14" fill="#c0c0c0"/>
<rect x="1057" y="546" width="1" height="15" fill="#c0c0c0"/>
<rect x="1065" y="546" width="1" height="15" fill="#c0c0c0"/>
<rect x="1073" y="544" width="1" height="17" fill="#c0c0c0"/>
<rect x="1081" y="544" width="1" height="17" fill="#c0c0c0"/>
<rect x="1089" y="544" width="1" height="17" fill="#c0c0c0"/>
<rect x="1097" y="545" width="1" height="16" fill="#c0c0c0"/>
<rect x="1105" y="546" width="1" height="15" fill="#c0c0c0"/>
<rect x="1113" y="548" width="1" height="13" fill="#c0c0c0"/>
<rect x="1121" y="552" width="1" height="9" fill="#c0c0c0"/>
<rect x="1129" y="556" width="1" height="5" fill="#c0c0c0"/>
<rect x="1137" y="558" width="1" height="3" fill="#c0c0c0"/>
<rect x="1145" y="559" width="1" height="2" fill="#c0c0c0"/>
<rect x="1153" y="560" width="1" height="1" fill="#c0c0c0"/>
<rect x="1161" y="560" width="1" height="2" fill="#c0c0c0"/>
<rect x="1169" y="560" width="1" height="3" fill="#c0c0c0"/>
<rect x="1177" y="560" width="1" height="6" fill="#c0c0c0"/>
<rect x="1185" y="560" width="1" height="9" fill="#c0c0c0"/>
<rect x="1193" y="560" width="1" height="10" fill="#c0c0c0"/>
<rect x="1201" y="560" width="1" height="11" fill="#c0c0c0"/>
<rect x="1209" y="560" width="1" height="12" fill="#c0c0c0"/>
<rect x="1217" y="560" width="1" height="12" fill="#c0c0c0"/>
<rect x="1225" y="560" width="1" height="13" fill="#c0c0c0"/>
<rect x="1233" y="560" width="1" height="12" fill="#c0c0c0"/>
<rect x="1241" y="560" width="1" height="11" fill="#c0c0c0"/>
<rect x="1249" y="560" width="1" height="11" fill="#c0c0c0"/>
<rect x="1257" y="560" width="1" height="10" fill="#c0c0c0"/>
<rect x="1265" y="560" width="1" height="9" fill="#c0c0c0"/>
<rect x="1273" y="560" width="1" height="4" fill="#c0c0c0"/>
<rect x="1281" y="559" width="1" height="2" fill="#c0c0c0"/>
<rect x="1289" y="559" width="1" height="2" fill="#c0c0c0"/>
<rect x="1297" y="557" width="1" height="4" fill="#c0c0c0"/>
</g>
<path d="M9.5 592v1M10.5 592v1M14.5 591v1M15.5 591v1M16.5 591v1M20.5 591v1M21.5 591v1M22.5 591v1M26.5 591v1M27.5 591v1M28.5 591v1M32.5 590v1M33.5 590v1M34.5 590v1M38.5 590v1M39.5 590v1M40.5 590v1M44.5 589v1M45.5 589v1M46.5 589v1M50.5 588v1M51.5 588v1M52.5 588v1M56.5 587v1M57.5 587v1M58.5 586v1M62.5 585v1M63.5 585v1M64.5 584v1M68.5 582v1M69.5 582v1M70.5 581v1M74.5 579v1M75.5 579v1M76.5 578v1M80.5 576v1M81.5 575v1M82.5 575v1M86.5 572v1M87.5 572v1M88.5 571v1M92.5 569v1M93.5 568v1M94.5 568v1M98.5 565v1M99.5 565v1M100.5 564v1M104.5 561v1M105.5 561v1M106.5 560v1M110.5 557v1M111.5 557v1M112.5 556v1M116.5 555v1M117.5 554v1M118.5 554v1M122.5 553v1M123.5 553v1M124.5 552v1M128.5 551v1M129.5 551v1M130.5 551v1M134.5 550v1M135.5 550v1M136.5 550v1M140.5 549v1M141.5 549v1M142.5 549v1M146.5 549v1M147.5 549v1M148.5 549v1M152.5 549v1M153.5 549v1M154.5 549v1M158.5 550v1M159.5 550v1M160.5 550v1M164.5 551v1M165.5 551v1M166.5 551v1M170.5 552v1M171.5 552v1M172.5 552v1M176.5 553v1M177.5 553v1M178.5 553v1M182.5 554v1M183.5 554v1M184.5 554v1M188.5 555v1M189.5 555v1M190.5 555v1M194.5 556v1M195.5 556v1M196.5 556v1M200.5 557v1M201.5 557v1M202.5 557v1M206.5 558v1M207.5 558v1M208.5 558v1M212.5 559v1M213.5 559v1M214.5 559v1M218.5 560v1M219.5 560v1M220.5 560v1M224.5 561v1M225.5 561v1M226.5 561v1M230.5 562v1M231.5 562v1M232.5 562v1M236.5 563v1M237.5 563v1M238.5 563v1M242.5 564v1M243.5 565v1M244.5 565v1M248.5 566v1M249.5 566v1M250.5 566v1M254.5 567v1M255.5 568v1M256.5 568v1M260.5 569v1M261.5 569v1M262.5 569v1M266.5 570v1M267.5 570v1M268.5 570v1M272.5 571v1M273.5 571v1M274.5 571v1M278.5 572v1M279.5 572v1M280.5 572v1M284.5 572v1M285.5 572v1M286.5 572v1M290.5 573v1M291.5 573v1M292.5 573v1M296.5 573v1M297.5 573v1M298.5 573v1M302.5 572v1M303.5 572v1M304.5 572v1M308.5 572v1M309.5 571v1M310.5 571v1M314.5 571v1M315.5 570v1M316.5 570v1M320.5 569v1M321.5 569v1M322.5 569v1M326.5 568v1M327.5 567v1M328.5 567v1M332.5 566v1M333.5 566v1M334.5 565v1M338.5 564v1M339.5 564v1M340.5 564v1M344.5 562v1M345.5 562v1M346.5 562v1M350.5 560v1M351.5 560v1M352.5 560v1M356.5 558v1M357.5 558v1M358.5 558v1M362.5 556v1M363.5 556v1M364.5 555v1M368.5 554v1M369.5 553v1M370.5 553v1M374.5 551v1M375.5 551v1M376.5 550v1M380.5 549v1M381.5 549v1M382.5 548v1M386.5 547v1M387.5 547v1M388.5 546v1M392.5 545v1M393.5 545v1M394.5 545v1M398.5 544v1M399.5 544v1M400.5 543v1M404.5 543v1M405.5 542v1M406.5 542v1M410.5 542v1M411.5 542v1M412.5 541v1M416.5 541v1M417.5 541v1M418.5 541v1M422.5 541v1M423.5 541v1M424.5 541v1M428.5 541v1M429.5 541v1M430.5 541v1M434.5 540v1M435.5 541v1M436.5 541v1M440.5 541v1M441.5 541v1M442.5 541v1M446.5 541v1M447.5 541v1M448.5 541v1M452.5 542v1M453.5 542v1M454.5 542v1M458.5 543v1M459.5 543v1M460.5 543v1M464.5 544v1M465.5 544v1M466.5 545v1M470.5 545v1M471.5 546v1M472.5 546v1M476.5 546v1M477.5 547v1M478.5 547v1M482.5 547v1M483.5 547v1M484.5 547v1M488.5 548v1M489.5 548v1M490.5 548v1M494.5 548v1M495.5 548v1M496.5 549v1M500.5 549v1M501.5 549v1M502.5 549v1M506.5 550v1M507.5 550v1M508.5 550v1M512.5 551v1M513.5 551v1M514.5 551v1M518.5 552v1M519.5 552v1M520.5 552v1M524.5 554v1M525.5 554v1M526.5 554v1M530.5 555v1M531.5 555v1M532.5 556v1M536.5 556v1M537.5 556v1M538.5 557v1M542.5 557v1M543.5 557v1M544.5 558v1M548.5 558v1M549.5 559v1M550.5 559v1M554.5 559v1M555.5 560v1M556.5 560v1M560.5 560v1M561.5 561v1M562.5 561v1M566.5 562v1M567.5 562v1M568.5 562v1M572.5 563v1M573.5 563v1M574.5 563v1M578.5 564v1M579.5 564v1M580.5 564v1M584.5 564v1M585.5 564v1M586.5 564v1M590.5 564v1M591.5 563v1M592.5 563v1M596.5 563v1M597.5 563v1M598.5 563v1M602.5 563v1M603.5 562v1M604.5 562v1M608.5 562v1M609.5 562v1M610.5 562v1M614.5 561v1M615.5 561v1M616.5 561v1M620.5 561v1M621.5 560v1M622.5 560v1M626.5 560v1M627.5 560v1M628.5 560v1M632.5 559v1M633.5 559v1M634.5 559v1M638.5 559v1M639.5 559v1M640.5 559v1M644.5 559v1M645.5 559v1M646.5 558v1M650.5 558v1M651.5 558v1M652.5 558v1M656.5 558v1M657.5 558v1M658.5 558v1M662.5 557v1M663.5 557v1M664.5 557v1M668.5 557v1M669.5 557v1M670.5 557v1M674.5 556v1M675.5 556v1M676.5 556v1M680.5 556v1M681.5 555v1M682.5 555v1M686.5 555v1M687.5 555v1M688.5 554v1M692.5 554v1M693.5 554v1M694.5 553v1M698.5 553v1M699.5 553v1M700.5 552v1M704.5 552v1M705.5 552v1M706.5 552v1M710.5 551v1M711.5 551v1M712.5 551v1M716.5 550v1M717.5 550v1M718.5 550v1M722.5 550v1M723.5 550v1M724.5 550v1M728.5 549v1M729.5 549v1M730.5 549v1M734.5 549v1M735.5 549v1M736.5 549v1M740.5 548v1M741.5 548v1M742.5 548v1M746.5 549v1M747.5 549v1M748.5 549v1M752.5 549v1M753.5 549v1M754.5 549v1M758.5 550v1M759.5 550v1M760.5 550v1M764.5 550v1M765.5 551v1M766.5 551v1M770.5 551v1M771.5 552v1M772.5 552v1M776.5 552v1M777.5 552v1M778.5 553v1M782.5 553v1M783.5 553v1M784.5 554v1M788.5 554v1M789.5 554v1M790.5 555v1M794.5 555v1M795.5 556v1M796.5 556v1M800.5 557v1M801.5 557v1M802.5 557v1M806.5 558v1M807.5 558v1M808.5 558v1M812.5 559v1M813.5 559v1M814.5 559v1M818.5 560v1M819.5 560v1M820.5 560v1M824.5 561v1M825.5 561v1M826.5 561v1M830.5 562v1M831.5 562v1M832.5 562v1M836.5 563v1M837.5 563v1M838.5 563v1M842.5 564v1M843.5 564v1M844.5 565v1M848.5 565v1M849.5 566v1M850.5 566v1M854.5 567v1M855.5 567v1M856.5 567v1M860.5 568v1M861.5 568v1M862.5 569v1M866.5 570v1M867.5 570v1M868.5 570v1M872.5 571v1M873.5 571v1M874.5 571v1M878.5 572v1M879.5 572v1M880.5 572v1M884.5 573v1M885.5 573v1M886.5 573v1M890.5 574v1M891.5 574v1M892.5 574v1M896.5 575v1M897.5 575v1M898.5 575v1M902.5 576v1M903.5 576v1M904.5 576v1M908.5 576v1M909.5 576v1M910.5 576v1M914.5 577v1M915.5 577v1M916.5 577v1M920.5 577v1M921.5 577v1M922.5 577v1M926.5 577v1M927.5 577v1M928.5 577v1M932.5 577v1M933.5 577v1M934.5 577v1M938.5 577v1M939.5 577v1M940.5 577v1M944.5 576v1M945.5 576v1M946.5 576v1M950.5 575v1M951.5 575v1M952.5 575v1M956.5 574v1M957.5 574v1M958.5 574v1M962.5 574v1M963.5 574v1M964.5 573v1M968.5 573v1M969.5 573v1M970.5 573v1M974.5 572v1M975.5 572v1M976.5 572v1M980.5 571v1M981.5 571v1M982.5 571v1M986.5 571v1M987.5 570v1M988.5 570v1M992.5 570v1M993.5 570v1M994.5 570v1M998.5 569v1M999.5 569v1M1000.5 569v1M1004.5 568v1M1005.5 568v1M1006.5 568v1M1010.5 567v1M1011.5 567v1M1012.5 567v1M1016.5 566v1M1017.5 566v1M1018.5 566v1M1022.5 565v1M1023.5 565v1M1024.5 565v1M1028.5 564v1M1029.5 564v1M1030.5 564v1M1034.5 563v1M1035.5 562v1M1036.5 562v1M1040.5 561v1M1041.5 560v1M1042.5 560v1M1046.5 559v1M1047.5 559v1M1048.5 558v1M1052.5 557v1M1053.5 557v1M1054.5 557v1M1058.5 555v1M1059.5 555v1M1060.5 555v1M1064.5 553v1M1065.5 553v1M1066.5 553v1M1070.5 551v1M1071.5 551v1M1072.5 551v1M1076.5 550v1M1077.5 549v1M1078.5 549v1M1082.5 548v1M1083.5 547v1M1084.5 547v1M1088.5 546v1M1089.5 546v1M1090.5 546v1M1094.5 545v1M1095.5 545v1M1096.5 545v1M1100.5 544v1M1101.5 544v1M1102.5 544v1M1106.5 544v1M1107.5 544v1M1108.5 544v1M1112.5 544v1M1113.5 544v1M1114.5 544v1M1118.5 545v1M1119.5 545v1M1120.5 545v1M1124.5 545v1M1125.5 545v1M1126.5 545v1M1130.5 546v1M1131.5 546v1M1132.5 546v1M1136.5 547v1M1137.5 547v1M1138.5 547v1M1142.5 548v1M1143.5 548v1M1144.5 548v1M1148.5 549v1M1149.5 549v1M1150.5 550v1M1154.5 551v1M1155.5 551v1M1156.5 551v1M1160.5 552v1M1161.5 553v1M1162.5 553v1M1166.5 554v1M1167.5 554v1M1168.5 555v1M1172.5 556v1M1173.5 556v1M1174.5 557v1M1178.5 558v1M1179.5 558v1M1180.5 558v1M1184.5 559v1M1185.5 559v1M1186.5 560v1M1190.5 561v1M1191.5 561v1M1192.5 561v1M1196.5 562v1M1197.5 562v1M1198.5 563v1M1202.5 564v1M1203.5 564v1M1204.5 564v1M1208.5 565v1M1209.5 565v1M1210.5 565v1M1214.5 566v1M1215.5 566v1M1216.5 567v1M1220.5 567v1M1221.5 567v1M1222.5 568v1M1226.5 568v1M1227.5 568v1M1228.5 568v1M1232.5 569v1M1233.5 569v1M1234.5 569v1M1238.5 569v1M1239.5 569v1M1240.5 569v1M1244.5 570v1M1245.5 570v1M1246.5 570v1M1250.5 570v1M1251.5 570v1M1252.5 570v1M1256.5 570v1M1257.5 570v1M1258.5 570v1M1262.5 570v1M1263.5 570v1M1264.5 570v1M1268.5 569v1M1269.5 569v1M1270.5 569v1M1274.5 569v1M1275.5 568v1M1276.5 568v1M1280.5 568v1M1281.5 568v1M1282.5 568v1M1286.5 567v1M1287.5 567v1M1288.5 566v1M1292.5 566v1M1293.5 565v1M1294.5 565v1" fill="none" stroke="#ff0000" stroke-width="1" shape-rendering="crispEdges"/>
<g shape-rendering="crispEdges">
<rect x="1639" y="536" width="1" height="1" fill="#000"/>
<rect x="1639" y="560" width="1" height="1" fill="#000"/>
<rect x="1639" y="594" width="1" height="1" fill="#000"/>
<rect x="1639" y="599" width="1" height="1" fill="#000"/>
<rect x="1639" y="637" width="1" height="1" fill="#000"/>
<rect x="1639" y="687" width="1" height="1" fill="#000"/>
<rect x="1639" y="724" width="1" height="1" fill="#000"/>
</g>
<text x="12.5" y="612.5" font-size="12" fill="#000" textLength="92" lengthAdjust="spacing">RSI(14) 60.6629</text>
<g shape-rendering="crispEdges">
<line x1="9" y1="637.5" x2="1638" y2="637.5" stroke="#c0c0c0" stroke-width="1" stroke-dasharray="3 3"/>
<line x1="9" y1="687.5" x2="1638" y2="687.5" stroke="#c0c0c0" stroke-width="1" stroke-dasharray="3 3"/>
</g>
<path d="M9.5 686v1M10.5 686v1M11.5 687v1M12.5 687v1M13.5 688v1M14.5 688v1M15.5 689v1M16.5 689v1M17.5 690v1M18.5 689v1M19.5 689v1M20.5 689v1M21.5 688v1M22.5 688v1M23.5 688v1M24.5 687v1M25.5 687v1M26.5 687v1M27.5 687v1M28.5 686v1M29.5 686v1M30.5 686v1M31.5 686v1M32.5 686v1M33.5 686v1M34.5 683v3M35.5 680v3M36.5 677v3M37.5 674v3M38.5 670v4M39.5 667v3M40.5 664v3M41.5 661v3M42.5 662v1M43.5 662v1M44.5 663v1M45.5 663v1M46.5 663v1M47.5 664v1M48.5 664v1M49.5 665v1M50.5 662v3M51.5 659v3M52.5 656v3M53.5 654v2M54.5 651v3M55.5 648v3M56.5 645v3M57.5 642v3M58.5 642v1M59.5 641v1M60.5 641v1M61.5 640v1M62.5 640v1M63.5 639v1M64.5 639v1M65.5 638v1M66.5 638v1M67.5 638v1M68.5 638v1M69.5 638v1M70.5 638v1M71.5 638v1M72.5 638v1M73.5 637v1M74.5 638v1M75.5 638v1M76.5 638v1M77.5 638v1M78.5 638v1M79.5 639v1M80.5 639v1M81.5 639v1M82.5 640v1M83.5 641v2M84.5 643v1M85.5 644v2M86.5 646v1M87.5 647v1M88.5 648v2M89.5 650v1M90.5 651v1M91.5 651v1M92.5 652v1M93.5 652v1M94.5 653v1M95.5 654v1M96.5 654v1M97.5 655v1M98.5 655v1M99.5 656v1M100.5 656v1M101.5 657v1M102.5 657v1M103.5 657v1M104.5 658v1M105.5 658v1M106.5 659v1M107.5 659v1M108.5 660v1M109.5 661v1M110.5 661v1M111.5 662v1M112.5 662v1M113.5 663v1M114.5 662v1M115.5 662v1M116.5 661v1M117.5 661v1M118.5 660v1M119.5 660v1M120.5 660v1M121.5 659v1M122.5 658v1M123.5 657v1M124.5 656v1M125.5 655v1M126.5 654v1M127.5 653v1M128.5 652v1M129.5 651v1M130.5 652v1M131.5 653v2M132.5 655v1M133.5 656v1M134.5 657v2M135.5 659v1M136.5 660v1M137.5 661v1M138.5 662v1M139.5 662v1M140.5 662v1M141.5 662v1M142.5 662v1M143.5 663v1M144.5 663v1M145.5 663v1M146.5 664v1M147.5 664v1M148.5 665v1M149.5 665v1M150.5 666v1M151.5 667v1M152.5 667v1M153.5 668v1M154.5 668v1M155.5 668v1M156.5 668v1M157.5 668v1M158.5 668v1M159.5 668v1M160.5 668v1M161.5 668v1M162.5 668v1M163.5 668v1M164.5 668v1M165.5 667v1M166.5 667v1M167.5 667v1M168.5 667v1M169.5 667v1M170.5 666v1M171.5 664v2M172.5 663v1M173.5 662v1M174.5 661v1M175.5 660v1M176.5 659v1M177.5 658v1M178.5 658v1M179.5 658v1M180.5 658v1M181.5 659v1M182.5 659v1M183.5 659v1M184.5 659v1M185.5 660v1M186.5 660v1M187.5 661v1M188.5 662v1M189.5 663v1M190.5 663v1M191.5 664v1M192.5 665v1M193.5 666v1M194.5 666v1M195.5 666v1M196.5 666v1M197.5 666v1M198.5 666v1M199.5 666v1M200.5 666v1M201.5 666v1M202.5 666v1M203.5 666v1M204.5 666v1M205.5 666v1M206.5 666v1M207.5 666v1M208.5 666v1M209.5 666v1M210.5 667v1M211.5 668v1M212.5 669v1M213.5 670v2M214.5 672v1M215.5 673v1M216.5 674v1M217.5 675v2M218.5 676v1M219.5 675v1M220.5 675v1M221.5 675v1M222.5 675v1M223.5 675v1M224.5 675v1M225.5 675v1M226.5 675v1M227.5 676v1M228.5 677v1M229.5 677v1M230.5 678v1M231.5 678v1M232.5 679v1M233.5 680v1M234.5 680v1M235.5 680v1M236.5 680v1M237.5 680v1M238.5 680v1M239.5 680v1M240.5 680v1M241.5 680v1M242.5 679v1M243.5 679v1M244.5 678v1M245.5 678v1M246.5 678v1M247.5 677v1M248.5 677v1M249.5 676v1M250.5 676v1M251.5 675v1M252.5 674v1M253.5 674v1M254.5 673v1M255.5 672v1M256.5 671v1M257.5 671v1M258.5 670v1M259.5 669v1M260.5 669v1M261.5 668v1M262.5 667v1M263.5 666v1M264.5 666v1M265.5 665v1M266.5 666v1M267.5 666v1M268.5 667v1M269.5 667v1M270.5 668v1M271.5 669v1M272.5 669v1M273.5 670v1M274.5 669v1M275.5 667v2M276.5 666v1M277.5 665v1M278.5 664v1M279.5 663v1M280.5 662v1M281.5 661v1M282.5 661v1M283.5 661v1M284.5 661v1M285.5 661v1M286.5 661v1M287.5 661v1M288.5 661v1M289.5 661v1M290.5 660v1M291.5 660v1M292.5 660v1M293.5 659v1M294.5 659v1M295.5 659v1M296.5 658v1M297.5 658v1M298.5 658v1M299.5 659v1M300.5 659v1M301.5 659v1M302.5 660v1M303.5 660v1M304.5 660v1M305.5 661v1M306.5 659v2M307.5 658v1M308.5 656v2M309.5 655v1M310.5 653v2M311.5 652v1M312.5 651v1M313.5 649v2M314.5 649v1M315.5 649v1M316.5 649v1M317.5 648v1M318.5 648v1M319.5 648v1M320.5 648v1M321.5 648v1M322.5 649v1M323.5 649v1M324.5 650v1M325.5 651v1M326.5 652v1M327.5 653v1M328.5 654v1M329.5 654v1M330.5 655v1M331.5 655v1M332.5 656v1M333.5 657v1M334.5 657v1M335.5 658v1M336.5 658v1M337.5 659v1M338.5 657v2M339.5 656v1M340.5 655v1M341.5 653v2M342.5 652v1M343.5 651v1M344.5 649v2M345.5 648v1M346.5 648v1M347.5 648v1M348.5 648v1M349.5 647v1M350.5 647v1M351.5 647v1M352.5 647v1M353.5 647v1M354.5 646v1M355.5 645v1M356.5 645v1M357.5 644v1M358.5 643v1M359.5 642v1M360.5 642v1M361.5 641v1M362.5 641v1M363.5 640v1M364.5 640v1M365.5 640v1M366.5 640v1M367.5 639v1M368.5 639v1M369.5 639v1M370.5 640v1M371.5 641v1M372.5 641v1M373.5 642v1M374.5 643v1M375.5 644v1M376.5 645v1M377.5 646v1M378.5 647v1M379.5 648v1M380.5 648v1M381.5 649v1M382.5 650v1M383.5 651v1M384.5 652v1M385.5 653v1M386.5 653v1M387.5 653v1M388.5 653v1M389.5 653v1M390.5 653v1M391.5 653v1M392.5 654v1M393.5 654v1M394.5 653v1M395.5 653v1M396.5 652v1M397.5 652v1M398.5 651v1M399.5 651v1M400.5 651v1M401.5 650v1M402.5 651v1M403.5 652v1M404.5 653v1M405.5 654v1M406.5 655v1M407.5 656v1M408.5 656v1M409.5 657v1M410.5 658v1M411.5 658v1M412.5 659v1M413.5 659v1M414.5 660v1M415.5 660v1M416.5 661v1M417.5 661v1M418.5 660v1M419.5 660v1M420.5 659v1M421.5 659v1M422.5 658v1M423.5 658v1M424.5 657v1M425.5 656v1M426.5 656v1M427.5 656v1M428.5 656v1M429.5 656v1M430.5 655v1M431.5 655v1M432.5 655v1M433.5 655v1M434.5 655v1M435.5 655v1M436.5 655v1M437.5 655v1M438.5 655v1M439.5 655v1M440.5 655v1M441.5 655v1M442.5 654v1M443.5 654v1M444.5 653v1M445.5 653v1M446.5 652v1M447.5 652v1M448.5 651v1M449.5 651v1M450.5 652v1M451.5 653v1M452.5 654v1M453.5 655v1M454.5 656v2M455.5 658v1M456.5 659v1M457.5 660v1M458.5 660v1M459.5 661v1M460.5 661v1M461.5 661v1M462.5 662v1M463.5 662v1M464.5 662v1M465.5 663v1M466.5 662v1M467.5 662v1M468.5 661v1M469.5 661v1M470.5 660v1M471.5 660v1M472.5 660v1M473.5 659v1M474.5 659v1M475.5 658v1M476.5 658v1M477.5 657v1M478.5 657v1M479.5 656v1M480.5 656v1M481.5 655v1M482.5 656v1M483.5 656v1M484.5 657v1M485.5 657v1M486.5 658v1M487.5 658v1M488.5 659v1M489.5 659v1M490.5 660v1M491.5 660v1M492.5 661v1M493.5 661v1M494.5 662v1M495.5 662v1M496.5 663v1M497.5 663v1M498.5 664v1M499.5 665v1M500.5 665v1M501.5 666v1M502.5 666v1M503.5 667v1M504.5 667v1M505.5 668v1M506.5 668v1M507.5 669v1M508.5 669v1M509.5 670v1M510.5 670v1M511.5 671v1M512.5 671v1M513.5 672v1M514.5 672v1M515.5 671v1M516.5 671v1M517.5 671v1M518.5 671v1M519.5 671v1M520.5 671v1M521.5 671v1M522.5 671v1M523.5 671v1M524.5 671v1M525.5 672v1M526.5 672v1M527.5 672v1M528.5 672v1M529.5 673v1M530.5 672v1M531.5 672v1M532.5 671v1M533.5 671v1M534.5 670v1M535.5 670v1M536.5 669v1M537.5 669v1M538.5 669v1M539.5 668v1M540.5 668v1M541.5 668v1M542.5 667v1M543.5 667v1M544.5 666v1M545.5 666v1M546.5 666v1M547.5 666v1M548.5 666v1M549.5 666v1M550.5 666v1M551.5 666v1M552.5 666v1M553.5 666v1M554.5 666v1M555.5 665v1M556.5 665v1M557.5 664v1M558.5 664v1M559.5 664v1M560.5 663v1M561.5 663v1M562.5 663v1M563.5 664v1M564.5 664v1M565.5 665v1M566.5 665v1M567.5 666v1M568.5 666v1M569.5 667v1M570.5 666v1M571.5 665v1M572.5 664v1M573.5 663v1M574.5 662v1M575.5 661v1M576.5 660v1M577.5 659v1M578.5 658v1M579.5 657v1M580.5 656v1M581.5 655v1M582.5 654v1M583.5 653v1M584.5 652v1M585.5 651v1M586.5 651v1M587.5 652v1M588.5 652v1M589.5 653v1M590.5 653v1M591.5 653v1M592.5 654v1M593.5 654v1M594.5 655v1M595.5 655v1M596.5 656v1M597.5 656v1M598.5 657v1M599.5 658v1M600.5 658v1M601.5 659v1M602.5 658v1M603.5 658v1M604.5 658v1M605.5 658v1M606.5 657v1M607.5 657v1M608.5 657v1M609.5 657v1M610.5 657v1M611.5 658v1M612.5 659v1M613.5 660v1M614.5 660v1M615.5 661v1M616.5 662v1M617.5 663v1M618.5 663v1M619.5 663v1M620.5 663v1M621.5 663v1M622.5 664v1M623.5 664v1M624.5 664v1M625.5 664v1M626.5 663v1M627.5 663v1M628.5 662v1M629.5 661v1M630.5 660v1M631.5 660v1M632.5 659v1M633.5 658v1M634.5 658v1M635.5 658v1M636.5 658v1M637.5 658v1M638.5 658v1M639.5 658v1M640.5 658v1M641.5 658v1M642.5 657v1M643.5 657v1M644.5 657v1M645.5 656v1M646.5 656v1M647.5 655v1M648.5 655v1M649.5 655v1M650.5 654v1M651.5 654v1M652.5 654v1M653.5 654v1M654.5 653v1M655.5 653v1M656.5 653v1M657.5 653v1M658.5 653v1M659.5 654v1M660.5 655v1M661.5 656v1M662.5 656v1M663.5 657v1M664.5 658v1M665.5 659v1M666.5 657v2M667.5 656v1M668.5 654v2M669.5 652v2M670.5 651v1M671.5 649v2M672.5 648v1M673.5 646v2M674.5 646v1M675.5 646v1M676.5 646v1M677.5 645v1M678.5 645v1M679.5 645v1M680.5 645v1M681.5 645v1M682.5 646v1M683.5 647v1M684.5 648v1M685.5 649v1M686.5 650v1M687.5 651v1M688.5 652v1M689.5 653v1M690.5 653v1M691.5 652v1M692.5 652v1M693.5 651v1M694.5 650v1M695.5 650v1M696.5 649v1M697.5 649v1M698.5 649v1M699.5 649v1M700.5 650v1M701.5 650v1M702.5 650v1M703.5 650v1M704.5 650v1M705.5 651v1M706.5 651v1M707.5 651v1M708.5 651v1M709.5 651v1M710.5 651v1M711.5 651v1M712.5 651v1M713.5 651v1M714.5 650v1M715.5 650v1M716.5 649v1M717.5 649v1M718.5 648v1M719.5 648v1M720.5 647v1M721.5 647v1M722.5 648v2M723.5 650v2M724.5 652v1M725.5 653v2M726.5 655v2M727.5 657v2M728.5 659v2M729.5 661v2M730.5 663v1M731.5 663v1M732.5 664v1M733.5 664v1M734.5 665v1M735.5 666v1M736.5 666v1M737.5 667v1M738.5 667v1M739.5 667v1M740.5 667v1M741.5 667v1M742.5 667v1M743.5 667v1M744.5 667v1M745.5 667v1M746.5 667v1M747.5 667v1M748.5 667v1M749.5 667v1M750.5 667v1M751.5 667v1M752.5 667v1M753.5 667v1M754.5 667v1M755.5 668v1M756.5 668v1M757.5 668v1M758.5 669v1M759.5 669v1M760.5 670v1M761.5 670v1M762.5 670v1M763.5 669v1M764.5 669v1M765.5 668v1M766.5 668v1M767.5 667v1M768.5 667v1M769.5 666v1M770.5 666v1M771.5 666v1M772.5 666v1M773.5 666v1M774.5 666v1M775.5 666v1M776.5 666v1M777.5 666v1M778.5 666v1M779.5 666v1M780.5 666v1M781.5 666v1M782.5 666v1M783.5 666v1M784.5 666v1M785.5 666v1M786.5 666v1M787.5 667v1M788.5 668v1M789.5 668v1M790.5 669v1M791.5 670v1M792.5 670v1M793.5 671v1M794.5 672v1M795.5 672v1M796.5 673v1M797.5 673v1M798.5 674v1M799.5 674v1M800.5 675v1M801.5 675v1M802.5 674v1M803.5 673v1M804.5 672v1M805.5 671v1M806.5 669v2M807.5 668v1M808.5 667v1M809.5 666v1M810.5 666v1M811.5 666v1M812.5 666v1M813.5 666v1M814.5 666v1M815.5 667v1M816.5 667v1M817.5 667v1M818.5 668v1M819.5 669v1M820.5 670v2M821.5 672v1M822.5 673v1M823.5 674v2M824.5 676v1M825.5 677v1M826.5 678v1M827.5 678v1M828.5 678v1M829.5 678v1M830.5 679v1M831.5 679v1M832.5 679v1M833.5 680v1M834.5 680v1M835.5 681v1M836.5 682v1M837.5 683v1M838.5 683v1M839.5 684v1M840.5 685v1M841.5 686v1M842.5 686v1M843.5 685v1M844.5 685v1M845.5 685v1M846.5 685v1M847.5 685v1M848.5 685v1M849.5 685v1M850.5 684v1M851.5 683v1M852.5 682v1M853.5 681v1M854.5 680v1M855.5 679v1M856.5 678v1M857.5 677v1M858.5 677v1M859.5 677v1M860.5 677v1M861.5 677v1M862.5 677v1M863.5 677v1M864.5 677v1M865.5 677v1M866.5 677v1M867.5 678v1M868.5 678v1M869.5 679v1M870.5 679v1M871.5 680v1M872.5 680v1M873.5 681v1M874.5 681v1M875.5 681v1M876.5 681v1M877.5 681v1M878.5 681v1M879.5 681v1M880.5 682v1M881.5 682v1M882.5 681v1M883.5 680v1M884.5 679v1M885.5 678v1M886.5 677v1M887.5 677v1M888.5 676v1M889.5 675v1M890.5 675v1M891.5 675v1M892.5 675v1M893.5 676v1M894.5 676v1M895.5 676v1M896.5 676v1M897.5 676v1M898.5 677v1M899.5 677v1M900.5 678v1M901.5 678v1M902.5 679v1M903.5 680v1M904.5 680v1M905.5 681v1M906.5 681v1M907.5 680v1M908.5 680v1M909.5 680v1M910.5 680v1M911.5 680v1M912.5 680v1M913.5 680v1M914.5 679v1M915.5 679v1M916.5 679v1M917.5 678v1M918.5 678v1M919.5 678v1M920.5 677v1M921.5 677v1M922.5 675v2M923.5 673v2M924.5 671v2M925.5 669v2M926.5 667v2M927.5 666v1M928.5 664v2M929.5 662v2M930.5 662v1M931.5 662v1M932.5 662v1M933.5 662v1M934.5 662v1M935.5 661v1M936.5 661v1M937.5 661v1M938.5 662v1M939.5 662v1M940.5 662v1M941.5 662v1M942.5 662v1M943.5 662v1M944.5 663v1M945.5 663v1M946.5 663v1M947.5 662v1M948.5 662v1M949.5 662v1M950.5 662v1M951.5 662v1M952.5 662v1M953.5 662v1M954.5 661v1M955.5 661v1M956.5 661v1M957.5 661v1M958.5 660v1M959.5 660v1M960.5 660v1M961.5 660v1M962.5 661v1M963.5 662v1M964.5 663v1M965.5 664v1M966.5 665v2M967.5 667v1M968.5 668v1M969.5 669v1M970.5 670v1M971.5 670v1M972.5 671v1M973.5 671v1M974.5 672v1M975.5 673v1M976.5 673v1M977.5 674v1M978.5 673v1M979.5 673v1M980.5 672v1M981.5 672v1M982.5 672v1M983.5 671v1M984.5 671v1M985.5 670v1M986.5 670v1M987.5 670v1M988.5 669v1M989.5 669v1M990.5 668v1M991.5 668v1M992.5 668v1M993.5 667v1M994.5 667v1M995.5 668v1M996.5 668v1M997.5 668v1M998.5 668v1M999.5 668v1M1000.5 668v1M1001.5 668v1M1002.5 667v1M1003.5 666v1M1004.5 666v1M1005.5 665v1M1006.5 664v1M1007.5 663v1M1008.5 662v1M1009.5 661v1M1010.5 658v3M1011.5 655v3M1012.5 651v4M1013.5 648v3M1014.5 645v3M1015.5 641v4M1016.5 638v3M1017.5 635v3M1018.5 635v1M1019.5 635v1M1020.5 635v1M1021.5 635v1M1022.5 635v1M1023.5 635v1M1024.5 635v1M1025.5 635v1M1026.5 635v1M1027.5 636v1M1028.5 636v1M1029.5 637v1M1030.5 637v1M1031.5 638v1M1032.5 639v1M1033.5 639v1M1034.5 640v1M1035.5 640v1M1036.5 640v1M1037.5 641v1M1038.5 641v1M1039.5 642v1M1040.5 642v1M1041.5 643v1M1042.5 643v1M1043.5 643v1M1044.5 643v1M1045.5 643v1M1046.5 643v1M1047.5 644v1M1048.5 644v1M1049.5 644v1M1050.5 644v1M1051.5 643v1M1052.5 643v1M1053.5 643v1M1054.5 643v1M1055.5 643v1M1056.5 643v1M1057.5 642v1M1058.5 643v1M1059.5 643v1M1060.5 644v1M1061.5 644v1M1062.5 645v1M1063.5 645v1M1064.5 646v1M1065.5 646v1M1066.5 646v1M1067.5 645v1M1068.5 645v1M1069.5 644v1M1070.5 644v1M1071.5 643v1M1072.5 643v1M1073.5 642v1M1074.5 643v1M1075.5 643v1M1076.5 644v1M1077.5 644v1M1078.5 645v1M1079.5 645v1M1080.5 646v1M1081.5 646v1M1082.5 646v1M1083.5 646v1M1084.5 645v1M1085.5 645v1M1086.5 645v1M1087.5 644v1M1088.5 644v1M1089.5 643v1M1090.5 644v1M1091.5 645v1M1092.5 646v1M1093.5 647v1M1094.5 648v1M1095.5 649v1M1096.5 650v1M1097.5 651v1M1098.5 651v1M1099.5 651v1M1100.5 652v1M1101.5 652v1M1102.5 652v1M1103.5 652v1M1104.5 652v1M1105.5 652v1M1106.5 653v1M1107.5 654v2M1108.5 656v2M1109.5 658v2M1110.5 660v1M1111.5 661v2M1112.5 663v2M1113.5 665v2M1114.5 666v1M1115.5 666v1M1116.5 667v1M1117.5 667v1M1118.5 667v1M1119.5 668v1M1120.5 668v1M1121.5 668v1M1122.5 669v1M1123.5 669v1M1124.5 670v1M1125.5 670v1M1126.5 670v1M1127.5 671v1M1128.5 671v1M1129.5 672v1M1130.5 672v1M1131.5 671v1M1132.5 671v1M1133.5 671v1M1134.5 671v1M1135.5 671v1M1136.5 671v1M1137.5 671v1M1138.5 671v1M1139.5 670v1M1140.5 670v1M1141.5 670v1M1142.5 670v1M1143.5 670v1M1144.5 670v1M1145.5 670v1M1146.5 670v1M1147.5 670v1M1148.5 670v1M1149.5 670v1M1150.5 670v1M1151.5 670v1M1152.5 670v1M1153.5 670v1M1154.5 670v1M1155.5 670v1M1156.5 670v1M1157.5 670v1M1158.5 670v1M1159.5 670v1M1160.5 671v1M1161.5 671v1M1162.5 671v1M1163.5 672v1M1164.5 672v1M1165.5 672v1M1166.5 673v1M1167.5 673v1M1168.5 674v1M1169.5 674v1M1170.5 675v1M1171.5 676v1M1172.5 677v1M1173.5 678v1M1174.5 679v1M1175.5 680v1M1176.5 681v1M1177.5 682v1M1178.5 682v1M1179.5 682v1M1180.5 682v1M1181.5 682v1M1182.5 682v1M1183.5 682v1M1184.5 682v1M1185.5 682v1M1186.5 682v1M1187.5 681v1M1188.5 681v1M1189.5 681v1M1190.5 681v1M1191.5 681v1M1192.5 681v1M1193.5 681v1M1194.5 681v1M1195.5 681v1M1196.5 681v1M1197.5 681v1M1198.5 681v1M1199.5 681v1M1200.5 682v1M1201.5 682v1M1202.5 681v1M1203.5 681v1M1204.5 680v1M1205.5 680v1M1206.5 679v1M1207.5 679v1M1208.5 678v1M1209.5 678v1M1210.5 678v1M1211.5 678v1M1212.5 678v1M1213.5 678v1M1214.5 678v1M1215.5 678v1M1216.5 678v1M1217.5 678v1M1218.5 678v1M1219.5 679v1M1220.5 679v1M1221.5 679v1M1222.5 680v1M1223.5 680v1M1224.5 680v1M1225.5 681v1M1226.5 679v2M1227.5 678v1M1228.5 677v1M1229.5 676v1M1230.5 674v2M1231.5 673v1M1232.5 672v1M1233.5 671v1M1234.5 670v1M1235.5 670v1M1236.5 669v1M1237.5 669v1M1238.5 668v1M1239.5 668v1M1240.5 667v1M1241.5 667v1M1242.5 667v1M1243.5 667v1M1244.5 668v1M1245.5 668v1M1246.5 669v1M1247.5 669v1M1248.5 669v1M1249.5 670v1M1250.5 670v1M1251.5 670v1M1252.5 670v1M1253.5 670v1M1254.5 670v1M1255.5 670v1M1256.5 670v1M1257.5 670v1M1258.5 669v1M1259.5 669v1M1260.5 668v1M1261.5 668v1M1262.5 667v1M1263.5 667v1M1264.5 666v1M1265.5 666v1M1266.5 663v3M1267.5 660v3M1268.5 657v3M1269.5 655v2M1270.5 652v3M1271.5 649v3M1272.5 646v3M1273.5 643v3M1274.5 643v1M1275.5 643v1M1276.5 642v1M1277.5 642v1M1278.5 642v1M1279.5 641v1M1280.5 641v1M1281.5 641v1M1282.5 641v1M1283.5 642v1M1284.5 643v1M1285.5 643v1M1286.5 644v1M1287.5 645v1M1288.5 645v1M1289.5 646v1M1290.5 646v1M1291.5 646v1M1292.5 647v1M1293.5 647v1M1294.5 647v1M1295.5 647v1M1296.5 648v1M1297.5 648v1" fill="none" stroke="#1e90ff" stroke-width="1" shape-rendering="crispEdges"/>
<text x="1642.2" y="548" font-size="12" fill="#000" textLength="31.5" lengthAdjust="spacing">34.72</text>
<text x="1642.2" y="565" font-size="12" fill="#000" textLength="24.5" lengthAdjust="spacing">0.00</text>
<text x="1642.2" y="592" font-size="12" fill="#000" textLength="34.6" lengthAdjust="spacing">-49.11</text>
<text x="1642.8" y="611" font-size="12" fill="#000" textLength="19.7" lengthAdjust="spacing">100</text>
<text x="1642.2" y="642" font-size="12" fill="#000" textLength="13" lengthAdjust="spacing">70</text>
<text x="1642.2" y="692" font-size="12" fill="#000" textLength="13" lengthAdjust="spacing">30</text>
<text x="1642.2" y="722.5" font-size="12" fill="#000" textLength="6.5" lengthAdjust="spacing">0</text>
</svg></body></html>
